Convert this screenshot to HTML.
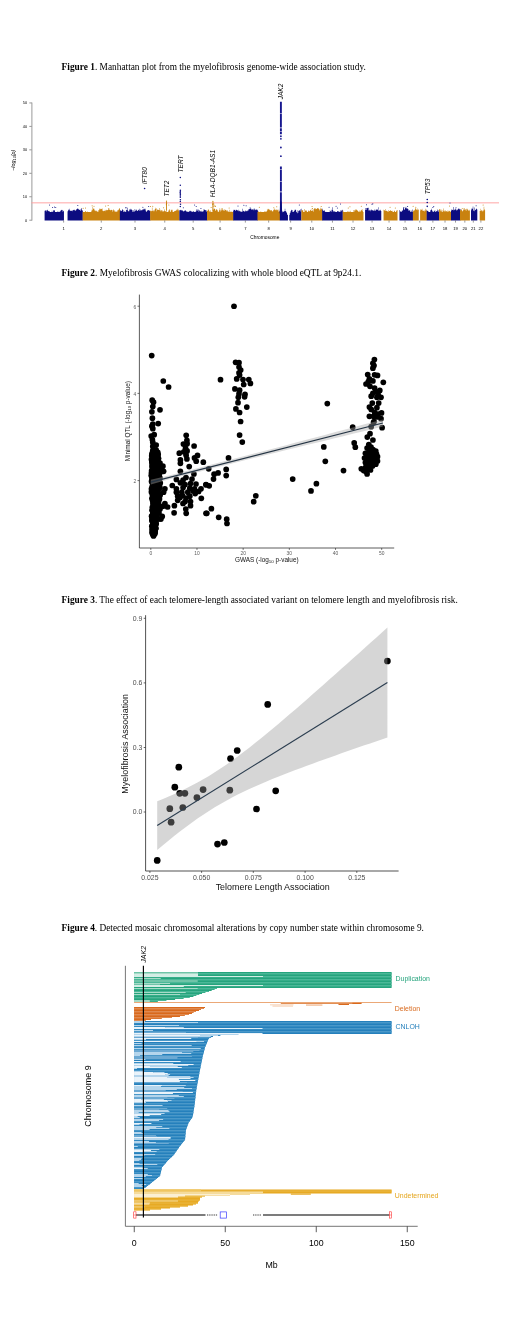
<!DOCTYPE html>
<html lang="en">
<head>
<meta charset="utf-8">
<title>Figures</title>
<style>
html,body{margin:0;padding:0;background:#fff;}
body{width:520px;height:1334px;overflow:hidden;}
svg{display:block;}
</style>
</head>
<body>
<svg width="520" height="1334" viewBox="0 0 520 1334">
<rect width="520" height="1334" fill="#fff"/>
<g id="captions" font-family='"Liberation Serif", serif' font-size="9.35" fill="#000">
<text x="61.6" y="70.2" textLength="304.2" lengthAdjust="spacingAndGlyphs"><tspan font-weight="bold">Figure 1</tspan>. Manhattan plot from the myelofibrosis genome-wide association study.</text>
<text x="61.6" y="276.4" textLength="299.7" lengthAdjust="spacingAndGlyphs"><tspan font-weight="bold">Figure 2</tspan>. Myelofibrosis GWAS colocalizing with whole blood eQTL at 9p24.1.</text>
<text x="61.6" y="602.6" textLength="396.2" lengthAdjust="spacingAndGlyphs"><tspan font-weight="bold">Figure 3</tspan>. The effect of each telomere-length associated variant on telomere length and myelofibrosis risk.</text>
<text x="61.6" y="931.2" textLength="362.3" lengthAdjust="spacingAndGlyphs"><tspan font-weight="bold">Figure 4</tspan>. Detected mosaic chromosomal alterations by copy number state within chromosome 9.</text>
</g>
<g id="fig1">
<g stroke="#999" stroke-width="1.0" fill="none">
<path d="M31.9 220.6 V102.55"/>
<path d="M29.3 220.2 H31.9"/>
<path d="M29.3 196.75 H31.9"/>
<path d="M29.3 173.3 H31.9"/>
<path d="M29.3 149.85 H31.9"/>
<path d="M29.3 126.4 H31.9"/>
<path d="M29.3 102.95 H31.9"/>
</g>
<g font-family='"Liberation Sans", sans-serif' font-size="3.9" fill="#000" text-anchor="end">
<text x="27.2" y="221.6">0</text>
<text x="27.2" y="198.15">10</text>
<text x="27.2" y="174.7">20</text>
<text x="27.2" y="151.25">30</text>
<text x="27.2" y="127.8">40</text>
<text x="27.2" y="104.35">50</text>
</g>
<text transform="translate(15.3 160.2) rotate(-90)" font-family='"Liberation Sans", sans-serif' font-size="5.4" font-style="italic" text-anchor="middle" fill="#000">−log<tspan font-size="3.8" dy="1">10</tspan><tspan dy="-1">(</tspan>p<tspan>)</tspan></text>
<path d="M31.4 202.85 H499" stroke="#ff9c9c" stroke-width="0.9" fill="none"/>
<path d="M44.6 220.4L44.6 210.76h0.45L45.05 210.52h0.45L45.5 210.48h0.45L45.95 210.29h0.45L46.4 211.57h0.45L46.85 210.27h0.45L47.3 209.71h0.45L47.75 210.75h0.45L48.2 211.28h0.45L48.65 211.1h0.45L49.1 211.11h0.45L49.55 211.99h0.45L50 211.98h0.45L50.45 211.99h0.45L50.9 211.95h0.45L51.35 211.99h0.45L51.8 210.75h0.45L52.25 211.99h0.45L52.7 211.99h0.45L53.15 210.46h0.45L53.6 210.14h0.45L54.05 210.81h0.45L54.5 210.01h0.45L54.95 211.99h0.45L55.4 211.99h0.45L55.85 211.99h0.45L56.3 211.99h0.45L56.75 211.99h0.45L57.2 211.67h0.45L57.65 211.55h0.45L58.1 211.83h0.45L58.55 211.99h0.45L59 211.89h0.45L59.45 211.86h0.45L59.9 211.14h0.45L60.35 211.23h0.45L60.8 209.93h0.45L61.25 210.32h0.45L61.7 209.74h0.45L62.15 210.1h0.45L62.6 211.84h0.45L63.05 211.37h0.45L63.5 210.87h0.45L63.95 220.4ZM67.55 220.4L67.55 211.35h0.45L68 210.56h0.45L68.45 209.49h0.45L68.9 210.04h0.45L69.35 208.8h0.45L69.8 211.01h0.45L70.25 210.55h0.45L70.7 210.96h0.45L71.15 210.69h0.45L71.6 210.86h0.45L72.05 210.26h0.45L72.5 211.34h0.45L72.95 210.19h0.45L73.4 210.08h0.45L73.85 209.57h0.45L74.3 210.15h0.45L74.75 210.23h0.45L75.2 210.84h0.45L75.65 210.57h0.45L76.1 208.97h0.45L76.55 209.66h0.45L77 208.55h0.45L77.45 208.72h0.45L77.9 208.8h0.45L78.35 209.22h0.45L78.8 209.86h0.45L79.25 209.87h0.45L79.7 209.93h0.45L80.15 210.92h0.45L80.6 209.19h0.45L81.05 208.12h0.45L81.5 209.39h0.45L81.95 211.03h0.45L82.4 209.9h0.45L82.85 220.4Z" fill="#0c0c80"/>
<g fill="#0c0c80"><circle cx="77.8" cy="205.38" r="0.5"/><circle cx="52.64" cy="207.53" r="0.5"/><circle cx="55.76" cy="207.57" r="0.5"/><circle cx="54.48" cy="206.9" r="0.5"/><circle cx="49.59" cy="205.06" r="0.5"/></g>
<path d="M82.68 220.4L82.68 211.65h0.45L83.13 211.99h0.45L83.58 211.99h0.45L84.03 211.99h0.45L84.48 211.99h0.45L84.93 211.35h0.45L85.38 210.99h0.45L85.83 211.99h0.45L86.28 211.99h0.45L86.73 211.67h0.45L87.18 211.53h0.45L87.63 211.99h0.45L88.08 211.99h0.45L88.53 211.99h0.45L88.98 211.99h0.45L89.43 211.99h0.45L89.88 211.99h0.45L90.33 211.99h0.45L90.78 211.93h0.45L91.23 211.2h0.45L91.68 209.65h0.45L92.13 210.24h0.45L92.58 206.77h0.45L93.03 208.58h0.45L93.48 208.76h0.45L93.93 208.84h0.45L94.38 210.16h0.45L94.83 210.87h0.45L95.28 210.53h0.45L95.73 211.15h0.45L96.18 210.49h0.45L96.63 211.18h0.45L97.08 211.22h0.45L97.53 211.99h0.45L97.98 211.78h0.45L98.43 210.12h0.45L98.88 210.21h0.45L99.33 208.67h0.45L99.78 208.41h0.45L100.23 208.94h0.45L100.68 209.46h0.45L101.13 209.1h0.45L101.58 208.73h0.45L102.03 208.54h0.45L102.48 210.83h0.45L102.93 210.67h0.45L103.38 211.31h0.45L103.83 210.99h0.45L104.28 211.05h0.45L104.73 209.81h0.45L105.18 210.34h0.45L105.63 211.16h0.45L106.08 210.18h0.45L106.53 209.84h0.45L106.98 210.01h0.45L107.43 210.37h0.45L107.88 209.9h0.45L108.33 208.13h0.45L108.78 207.89h0.45L109.23 209.64h0.45L109.68 209.73h0.45L110.13 210.29h0.45L110.58 210.29h0.45L111.03 210.01h0.45L111.48 209.79h0.45L111.93 209.92h0.45L112.38 211.8h0.45L112.83 210.58h0.45L113.28 209.29h0.45L113.73 210.33h0.45L114.18 211.62h0.45L114.63 210.29h0.45L115.08 211.15h0.45L115.53 211.99h0.45L115.98 211.99h0.45L116.43 211.23h0.45L116.88 211.8h0.45L117.33 210.17h0.45L117.78 210.51h0.45L118.23 209.84h0.45L118.68 209.61h0.45L119.13 207.89h0.45L119.58 208.63h0.45L120.03 220.4Z" fill="#c9820f"/>
<g fill="#c9820f"><circle cx="108.1" cy="205.6" r="0.5"/><circle cx="105.62" cy="206.06" r="0.5"/><circle cx="85.56" cy="207.92" r="0.5"/><circle cx="92.12" cy="205.69" r="0.5"/><circle cx="94" cy="206.34" r="0.5"/><circle cx="83.15" cy="208.25" r="0.5"/></g>
<path d="M119.85 220.4L119.85 210.64h0.45L120.3 210.08h0.45L120.75 211.27h0.45L121.2 210.98h0.45L121.65 210.58h0.45L122.1 209.34h0.45L122.55 209.66h0.45L123 210.15h0.45L123.45 211.99h0.45L123.9 211.99h0.45L124.35 211.18h0.45L124.8 210.83h0.45L125.25 211.99h0.45L125.7 211.99h0.45L126.15 209.98h0.45L126.6 209.66h0.45L127.05 210.31h0.45L127.5 207.94h0.45L127.95 211.39h0.45L128.4 210.99h0.45L128.85 211.21h0.45L129.3 209.27h0.45L129.75 210.08h0.45L130.2 209.38h0.45L130.65 208.65h0.45L131.1 209.32h0.45L131.55 210.11h0.45L132 210.13h0.45L132.45 211.88h0.45L132.9 209.94h0.45L133.35 211.5h0.45L133.8 211.99h0.45L134.25 211.29h0.45L134.7 208.88h0.45L135.15 210.65h0.45L135.6 210.45h0.45L136.05 210.25h0.45L136.5 209.51h0.45L136.95 210.94h0.45L137.4 210.94h0.45L137.85 210.08h0.45L138.3 209.64h0.45L138.75 210.58h0.45L139.2 208.86h0.45L139.65 210.73h0.45L140.1 209.53h0.45L140.55 210.54h0.45L141 209.95h0.45L141.45 210.52h0.45L141.9 210.24h0.45L142.35 209.13h0.45L142.8 210.07h0.45L143.25 209.3h0.45L143.7 208.85h0.45L144.15 208.84h0.45L144.6 209.47h0.45L145.05 210.39h0.45L145.5 208.73h0.45L145.95 211.99h0.45L146.4 211.58h0.45L146.85 211.08h0.45L147.3 210.18h0.45L147.75 210.34h0.45L148.2 209.93h0.45L148.65 210.31h0.45L149.1 210.55h0.45L149.55 210.72h0.45L150 211.5h0.45L150.45 220.4Z" fill="#0c0c80"/>
<g fill="#0c0c80"><circle cx="126.84" cy="207.64" r="0.5"/><circle cx="142.88" cy="207.37" r="0.5"/><circle cx="148.68" cy="206.61" r="0.5"/><circle cx="125.52" cy="207.64" r="0.5"/></g>
<path d="M150.14 220.4L150.14 210.6h0.45L150.59 211.11h0.45L151.04 211.17h0.45L151.49 210.79h0.45L151.94 207.46h0.45L152.39 210.99h0.45L152.84 210.4h0.45L153.29 210.53h0.45L153.74 211.58h0.45L154.19 210.5h0.45L154.64 209.47h0.45L155.09 207.65h0.45L155.54 208.94h0.45L155.99 208.3h0.45L156.44 211.18h0.45L156.89 208.91h0.45L157.34 210.1h0.45L157.79 210h0.45L158.24 209.68h0.45L158.69 209.92h0.45L159.14 207.89h0.45L159.59 210.16h0.45L160.04 211.15h0.45L160.49 209.72h0.45L160.94 211.35h0.45L161.39 209.88h0.45L161.84 209.9h0.45L162.29 211.46h0.45L162.74 211.28h0.45L163.19 211.28h0.45L163.64 211.56h0.45L164.09 210.82h0.45L164.54 209.37h0.45L164.99 211.34h0.45L165.44 211.32h0.45L165.89 211.55h0.45L166.34 211.32h0.45L166.79 211.99h0.45L167.24 211.99h0.45L167.69 211.99h0.45L168.14 211.48h0.45L168.59 210.34h0.45L169.04 210.34h0.45L169.49 209.02h0.45L169.94 211.54h0.45L170.39 211.99h0.45L170.84 209.78h0.45L171.29 209.81h0.45L171.74 210.53h0.45L172.19 209.87h0.45L172.64 211.99h0.45L173.09 211.99h0.45L173.54 211.64h0.45L173.99 211.47h0.45L174.44 211.12h0.45L174.89 210.81h0.45L175.34 211h0.45L175.79 210.55h0.45L176.24 210.29h0.45L176.69 209.6h0.45L177.14 210.17h0.45L177.59 208.66h0.45L178.04 209.59h0.45L178.49 210.58h0.45L178.94 211.21h0.45L179.39 220.4Z" fill="#c9820f"/>
<g fill="#c9820f"><circle cx="163.6" cy="207.87" r="0.5"/><circle cx="150.57" cy="206.41" r="0.5"/><circle cx="168.85" cy="205.06" r="0.5"/><circle cx="152.74" cy="206.14" r="0.5"/></g>
<path d="M179.35 220.4L179.35 210.33h0.45L179.8 209.93h0.45L180.25 210.15h0.45L180.7 209.63h0.45L181.15 210.26h0.45L181.6 210.5h0.45L182.05 210.46h0.45L182.5 210.54h0.45L182.95 211.43h0.45L183.4 211.33h0.45L183.85 211.32h0.45L184.3 210.53h0.45L184.75 211.11h0.45L185.2 209.95h0.45L185.65 210.64h0.45L186.1 211.29h0.45L186.55 211.63h0.45L187 211.99h0.45L187.45 211.6h0.45L187.9 211.38h0.45L188.35 211.99h0.45L188.8 211.99h0.45L189.25 210.88h0.45L189.7 210.72h0.45L190.15 211.21h0.45L190.6 210.71h0.45L191.05 211h0.45L191.5 211.97h0.45L191.95 211.99h0.45L192.4 211.52h0.45L192.85 211.99h0.45L193.3 210.92h0.45L193.75 211.41h0.45L194.2 211.99h0.45L194.65 211.99h0.45L195.1 211.99h0.45L195.55 211.38h0.45L196 211.33h0.45L196.45 209.58h0.45L196.9 209.24h0.45L197.35 210.77h0.45L197.8 210.38h0.45L198.25 209.55h0.45L198.7 211.99h0.45L199.15 210.48h0.45L199.6 210.41h0.45L200.05 211.01h0.45L200.5 211.74h0.45L200.95 210.82h0.45L201.4 211.99h0.45L201.85 211.07h0.45L202.3 211.99h0.45L202.75 211.49h0.45L203.2 211.19h0.45L203.65 209.14h0.45L204.1 209.9h0.45L204.55 209.53h0.45L205 209.95h0.45L205.45 210.34h0.45L205.9 211.5h0.45L206.35 210.24h0.45L206.8 211.99h0.45L207.25 220.4Z" fill="#0c0c80"/>
<g fill="#0c0c80"><circle cx="200.91" cy="208.43" r="0.5"/><circle cx="194.6" cy="204.94" r="0.5"/><circle cx="183.29" cy="207.73" r="0.5"/><circle cx="196.18" cy="206.57" r="0.5"/></g>
<path d="M207.03 220.4L207.03 210.74h0.45L207.48 210.85h0.45L207.93 209.36h0.45L208.38 209.67h0.45L208.83 210.49h0.45L209.28 211.49h0.45L209.73 211.46h0.45L210.18 210.2h0.45L210.63 211.99h0.45L211.08 211.99h0.45L211.53 211.73h0.45L211.98 211.99h0.45L212.43 210.16h0.45L212.88 209.14h0.45L213.33 209.91h0.45L213.78 208.82h0.45L214.23 208.5h0.45L214.68 208.92h0.45L215.13 210.4h0.45L215.58 210.74h0.45L216.03 209.58h0.45L216.48 209.22h0.45L216.93 209.64h0.45L217.38 210.42h0.45L217.83 211.99h0.45L218.28 211.8h0.45L218.73 211.61h0.45L219.18 210.02h0.45L219.63 208.21h0.45L220.08 209.75h0.45L220.53 211.56h0.45L220.98 210.59h0.45L221.43 208.22h0.45L221.88 210.27h0.45L222.33 207.92h0.45L222.78 209.58h0.45L223.23 210.14h0.45L223.68 210.79h0.45L224.13 209.27h0.45L224.58 210.87h0.45L225.03 210.08h0.45L225.48 209.73h0.45L225.93 210.29h0.45L226.38 211.13h0.45L226.83 210h0.45L227.28 210.7h0.45L227.73 211.65h0.45L228.18 211.28h0.45L228.63 211.99h0.45L229.08 209.75h0.45L229.53 211.99h0.45L229.98 211.62h0.45L230.43 211.99h0.45L230.88 211.56h0.45L231.33 211.99h0.45L231.78 211.42h0.45L232.23 211.99h0.45L232.68 211.99h0.45L233.13 211.99h0.45L233.58 220.4Z" fill="#c9820f"/>
<g fill="#c9820f"><circle cx="214.92" cy="205.84" r="0.5"/><circle cx="229.1" cy="207.89" r="0.5"/><circle cx="211.11" cy="207.55" r="0.5"/><circle cx="215.57" cy="206.52" r="0.5"/></g>
<path d="M233.19 220.4L233.19 210.82h0.45L233.64 209.65h0.45L234.09 209.96h0.45L234.54 209.63h0.45L234.99 210.48h0.45L235.44 210.85h0.45L235.89 209.4h0.45L236.34 209.9h0.45L236.79 210.32h0.45L237.24 210.08h0.45L237.69 210.96h0.45L238.14 211.15h0.45L238.59 209.66h0.45L239.04 210.69h0.45L239.49 211.32h0.45L239.94 211.27h0.45L240.39 211.62h0.45L240.84 211.99h0.45L241.29 211.84h0.45L241.74 211.61h0.45L242.19 208.63h0.45L242.64 211.83h0.45L243.09 211h0.45L243.54 210.82h0.45L243.99 211.3h0.45L244.44 211.82h0.45L244.89 211.39h0.45L245.34 210.6h0.45L245.79 210.67h0.45L246.24 211.07h0.45L246.69 211.52h0.45L247.14 211.04h0.45L247.59 210.26h0.45L248.04 210.54h0.45L248.49 209.15h0.45L248.94 209.03h0.45L249.39 209.25h0.45L249.84 207.1h0.45L250.29 208.77h0.45L250.74 208.54h0.45L251.19 209.26h0.45L251.64 209.98h0.45L252.09 209.2h0.45L252.54 209.53h0.45L252.99 210.28h0.45L253.44 209.17h0.45L253.89 208.19h0.45L254.34 209.34h0.45L254.79 210.15h0.45L255.24 209.53h0.45L255.69 209.95h0.45L256.14 209.81h0.45L256.59 209.23h0.45L257.04 209.79h0.45L257.49 210.38h0.45L257.94 220.4Z" fill="#0c0c80"/>
<g fill="#0c0c80"><circle cx="237.99" cy="205.88" r="0.5"/><circle cx="246.1" cy="205.69" r="0.5"/><circle cx="243.85" cy="205.16" r="0.5"/></g>
<path d="M257.51 220.4L257.51 211.99h0.45L257.96 211.79h0.45L258.41 211.24h0.45L258.86 211.89h0.45L259.31 211.99h0.45L259.76 211.99h0.45L260.21 211.99h0.45L260.66 211.21h0.45L261.11 211.99h0.45L261.56 211.99h0.45L262.01 211.99h0.45L262.46 211.99h0.45L262.91 211.99h0.45L263.36 211.99h0.45L263.81 211.92h0.45L264.26 211.67h0.45L264.71 210.96h0.45L265.16 211.91h0.45L265.61 211.5h0.45L266.06 211.99h0.45L266.51 210.9h0.45L266.96 209.19h0.45L267.41 210.44h0.45L267.86 208.65h0.45L268.31 209.57h0.45L268.76 209.01h0.45L269.21 209.73h0.45L269.66 210.14h0.45L270.11 210.5h0.45L270.56 210.37h0.45L271.01 210.4h0.45L271.46 210.02h0.45L271.91 211.58h0.45L272.36 211.36h0.45L272.81 211.32h0.45L273.26 209.88h0.45L273.71 209.49h0.45L274.16 209.65h0.45L274.61 208.4h0.45L275.06 210.17h0.45L275.51 209.75h0.45L275.96 209.25h0.45L276.41 210.23h0.45L276.86 210.06h0.45L277.31 210.21h0.45L277.76 209.23h0.45L278.21 211.68h0.45L278.66 210.3h0.45L279.11 210.69h0.45L279.56 211.38h0.45L280.01 220.4Z" fill="#c9820f"/>
<g fill="#c9820f"><circle cx="259.29" cy="207.31" r="0.5"/><circle cx="273.8" cy="207.85" r="0.5"/><circle cx="276.73" cy="206.65" r="0.5"/></g>
<path d="M279.84 220.4L279.84 211.37h0.45L280.29 211.21h0.45L280.74 211.19h0.45L281.19 212.19h0.45L281.64 212.17h0.45L282.09 212.29h0.45L282.54 211.31h0.45L282.99 211.87h0.45L283.44 211.76h0.45L283.89 211.54h0.45L284.34 211.03h0.45L284.79 208.87h0.45L285.24 211.16h0.45L285.69 211.06h0.45L286.14 211.91h0.45L286.59 213.1h0.45L287.04 214.44h0.45L287.49 215.04h0.45L287.94 220.4ZM289.29 220.4L289.29 215.04h0.45L289.74 213.25h0.45L290.19 212.62h0.45L290.64 211.08h0.45L291.09 210.37h0.45L291.54 209.86h0.45L291.99 209.9h0.45L292.44 211.96h0.45L292.89 211.67h0.45L293.34 211.89h0.45L293.79 211.32h0.45L294.24 210.68h0.45L294.69 209.87h0.45L295.14 209.9h0.45L295.59 209.48h0.45L296.04 212.37h0.45L296.49 211.84h0.45L296.94 210.18h0.45L297.39 213.24h0.45L297.84 212.71h0.45L298.29 210.89h0.45L298.74 210.53h0.45L299.19 210.74h0.45L299.64 210.05h0.45L300.09 209.24h0.45L300.54 211.48h0.45L300.99 208.67h0.45L301.44 220.4Z" fill="#0c0c80"/>
<g fill="#0c0c80"><circle cx="280.67" cy="207.52" r="0.5"/><circle cx="299.31" cy="205.08" r="0.5"/></g>
<path d="M301.4 220.4L301.4 210.22h0.45L301.85 210.68h0.45L302.3 210.11h0.45L302.75 210.17h0.45L303.2 211.98h0.45L303.65 211.99h0.45L304.1 211.99h0.45L304.55 208.98h0.45L305 210.63h0.45L305.45 210.25h0.45L305.9 210.91h0.45L306.35 210.14h0.45L306.8 211.74h0.45L307.25 211.99h0.45L307.7 211.99h0.45L308.15 210.83h0.45L308.6 210.6h0.45L309.05 211.22h0.45L309.5 211.15h0.45L309.95 209.89h0.45L310.4 209.7h0.45L310.85 210.91h0.45L311.3 211.09h0.45L311.75 208.38h0.45L312.2 210.29h0.45L312.65 210.93h0.45L313.1 211.71h0.45L313.55 209.23h0.45L314 208.03h0.45L314.45 208.66h0.45L314.9 209.29h0.45L315.35 207.92h0.45L315.8 209.26h0.45L316.25 208.88h0.45L316.7 208.7h0.45L317.15 208.31h0.45L317.6 207.95h0.45L318.05 208.58h0.45L318.5 208.56h0.45L318.95 209.13h0.45L319.4 210.54h0.45L319.85 209.6h0.45L320.3 207.66h0.45L320.75 209.59h0.45L321.2 208.45h0.45L321.65 208.77h0.45L322.1 210.46h0.45L322.55 220.4Z" fill="#c9820f"/>
<g fill="#c9820f"><circle cx="321.18" cy="206.62" r="0.5"/><circle cx="312.04" cy="206.48" r="0.5"/><circle cx="312.54" cy="208.4" r="0.5"/></g>
<path d="M322.13 220.4L322.13 208.7h0.45L322.58 210.3h0.45L323.03 210.55h0.45L323.48 210.94h0.45L323.93 210.66h0.45L324.38 210.18h0.45L324.83 211.79h0.45L325.28 211.99h0.45L325.73 211.76h0.45L326.18 211.99h0.45L326.63 211.99h0.45L327.08 211.96h0.45L327.53 211.99h0.45L327.98 211.99h0.45L328.43 211.99h0.45L328.88 211.99h0.45L329.33 211.92h0.45L329.78 210.13h0.45L330.23 211.21h0.45L330.68 211.3h0.45L331.13 211.8h0.45L331.58 209.84h0.45L332.03 210.03h0.45L332.48 207.27h0.45L332.93 211.99h0.45L333.38 210.87h0.45L333.83 211.01h0.45L334.28 211.99h0.45L334.73 211.11h0.45L335.18 211.99h0.45L335.63 211.99h0.45L336.08 211.99h0.45L336.53 211.99h0.45L336.98 211.61h0.45L337.43 211.05h0.45L337.88 211.09h0.45L338.33 211.59h0.45L338.78 211.99h0.45L339.23 211.68h0.45L339.68 211.78h0.45L340.13 211.8h0.45L340.58 210.24h0.45L341.03 211.25h0.45L341.48 210.26h0.45L341.93 209.86h0.45L342.38 210.29h0.45L342.83 220.4Z" fill="#0c0c80"/>
<g fill="#0c0c80"><circle cx="337.38" cy="207.9" r="0.5"/><circle cx="329.09" cy="207.15" r="0.5"/><circle cx="336.07" cy="206.16" r="0.5"/></g>
<path d="M342.78 220.4L342.78 210.51h0.45L343.23 211.84h0.45L343.68 211.99h0.45L344.13 211.99h0.45L344.58 211.99h0.45L345.03 211.99h0.45L345.48 211.99h0.45L345.93 211.99h0.45L346.38 211.99h0.45L346.83 211.99h0.45L347.28 211.66h0.45L347.73 210.9h0.45L348.18 211.72h0.45L348.63 211.99h0.45L349.08 211.99h0.45L349.53 211.43h0.45L349.98 210.64h0.45L350.43 211.99h0.45L350.88 211.99h0.45L351.33 211.99h0.45L351.78 211.99h0.45L352.23 211.99h0.45L352.68 211.99h0.45L353.13 211.99h0.45L353.58 210.09h0.45L354.03 209.95h0.45L354.48 211.47h0.45L354.93 209.61h0.45L355.38 210.45h0.45L355.83 209.15h0.45L356.28 209.82h0.45L356.73 210.27h0.45L357.18 210.27h0.45L357.63 210.9h0.45L358.08 211.26h0.45L358.53 211.99h0.45L358.98 211.99h0.45L359.43 210.53h0.45L359.88 211.55h0.45L360.33 211.46h0.45L360.78 210.25h0.45L361.23 209.74h0.45L361.68 210.49h0.45L362.13 211.29h0.45L362.58 209.33h0.45L363.03 211.99h0.45L363.48 220.4Z" fill="#c9820f"/>
<g fill="#c9820f"><circle cx="348.24" cy="208.1" r="0.5"/><circle cx="361.3" cy="206.29" r="0.5"/><circle cx="349.93" cy="206.79" r="0.5"/></g>
<path d="M365.07 220.4L365.07 209.92h0.45L365.52 208.07h0.45L365.97 210h0.45L366.42 208.09h0.45L366.87 207.9h0.45L367.32 208.23h0.45L367.77 207.7h0.45L368.22 210.38h0.45L368.67 208.79h0.45L369.12 210h0.45L369.57 210.72h0.45L370.02 211.14h0.45L370.47 209.95h0.45L370.92 209.13h0.45L371.37 210.05h0.45L371.82 210.73h0.45L372.27 209.89h0.45L372.72 210.27h0.45L373.17 210.92h0.45L373.62 210.28h0.45L374.07 210.82h0.45L374.52 209.5h0.45L374.97 211.08h0.45L375.42 210.3h0.45L375.87 209.25h0.45L376.32 209.96h0.45L376.77 209.36h0.45L377.22 209.39h0.45L377.67 209.94h0.45L378.12 211.07h0.45L378.57 209.32h0.45L379.02 210.21h0.45L379.47 210.67h0.45L379.92 210.46h0.45L380.37 209.71h0.45L380.82 211.02h0.45L381.27 220.4Z" fill="#0c0c80"/>
<g fill="#0c0c80"><circle cx="378.42" cy="207.98" r="0.5"/><circle cx="368.14" cy="208.36" r="0.5"/></g>
<path d="M383.56 220.4L383.56 209.66h0.45L384.01 210.3h0.45L384.46 210.28h0.45L384.91 211.12h0.45L385.36 209.1h0.45L385.81 210.81h0.45L386.26 210.84h0.45L386.71 210.91h0.45L387.16 210.96h0.45L387.61 211.91h0.45L388.06 211.68h0.45L388.51 209.94h0.45L388.96 211.08h0.45L389.41 210.98h0.45L389.86 210.38h0.45L390.31 210.36h0.45L390.76 210.74h0.45L391.21 210.9h0.45L391.66 211.05h0.45L392.11 210.78h0.45L392.56 211.99h0.45L393.01 211.99h0.45L393.46 211.99h0.45L393.91 210.73h0.45L394.36 210.78h0.45L394.81 211.69h0.45L395.26 211.99h0.45L395.71 211.98h0.45L396.16 210.57h0.45L396.61 210.82h0.45L397.06 210.09h0.45L397.51 220.4Z" fill="#c9820f"/>
<g fill="#c9820f"><circle cx="395.34" cy="207.94" r="0.5"/><circle cx="390.08" cy="207.22" r="0.5"/></g>
<path d="M399.48 220.4L399.48 210.04h0.45L399.93 211.09h0.45L400.38 211.81h0.45L400.83 211.99h0.45L401.28 211.76h0.45L401.73 210.83h0.45L402.18 210.62h0.45L402.63 210.61h0.45L403.08 207.77h0.45L403.53 208.21h0.45L403.98 209.3h0.45L404.43 210.08h0.45L404.88 208.16h0.45L405.33 207.77h0.45L405.78 206.85h0.45L406.23 208.38h0.45L406.68 208.33h0.45L407.13 208.78h0.45L407.58 208.5h0.45L408.03 209.27h0.45L408.48 210.76h0.45L408.93 210.29h0.45L409.38 210.52h0.45L409.83 210.58h0.45L410.28 211.99h0.45L410.73 211.71h0.45L411.18 211.83h0.45L411.63 210.51h0.45L412.08 211.99h0.45L412.53 209.53h0.45L412.98 220.4Z" fill="#0c0c80"/>
<g fill="#0c0c80"><circle cx="403.9" cy="207.41" r="0.5"/><circle cx="407.6" cy="206.54" r="0.5"/></g>
<path d="M412.9 220.4L412.9 211.42h0.45L413.35 210.39h0.45L413.8 210.67h0.45L414.25 210.31h0.45L414.7 209.77h0.45L415.15 208.78h0.45L415.6 207.92h0.45L416.05 209.5h0.45L416.5 209.65h0.45L416.95 210.34h0.45L417.4 208.5h0.45L417.85 209.79h0.45L418.3 209.44h0.45L418.75 220.4ZM420.1 220.4L420.1 209.16h0.45L420.55 210.54h0.45L421 209.73h0.45L421.45 209.76h0.45L421.9 208.79h0.45L422.35 210.43h0.45L422.8 210.67h0.45L423.25 210.66h0.45L423.7 210.82h0.45L424.15 211.43h0.45L424.6 210.14h0.45L425.05 210.79h0.45L425.5 208.7h0.45L425.95 209.58h0.45L426.4 210.85h0.45L426.85 220.4Z" fill="#c9820f"/>
<g fill="#c9820f"><circle cx="413.11" cy="206.25" r="0.5"/><circle cx="415.84" cy="207.35" r="0.5"/></g>
<path d="M426.67 220.4L426.67 210.23h0.45L427.12 210.97h0.45L427.57 210.64h0.45L428.02 211.24h0.45L428.47 211.99h0.45L428.92 211.99h0.45L429.37 211.99h0.45L429.82 211.99h0.45L430.27 210.44h0.45L430.72 210.02h0.45L431.17 208.68h0.45L431.62 209.98h0.45L432.07 210.82h0.45L432.52 211.64h0.45L432.97 211.67h0.45L433.42 211.99h0.45L433.87 210.7h0.45L434.32 211.26h0.45L434.77 210.32h0.45L435.22 211.69h0.45L435.67 211.99h0.45L436.12 211.31h0.45L436.57 210.94h0.45L437.02 211.14h0.45L437.47 209.43h0.45L437.92 209.91h0.45L438.37 211.76h0.45L438.82 211.5h0.45L439.27 220.4Z" fill="#0c0c80"/>
<g fill="#0c0c80"><circle cx="432.86" cy="207.49" r="0.5"/><circle cx="433.72" cy="206.49" r="0.5"/></g>
<path d="M439.06 220.4L439.06 209.34h0.45L439.51 209.26h0.45L439.96 209.57h0.45L440.41 211.19h0.45L440.86 209.5h0.45L441.31 210.75h0.45L441.76 211.99h0.45L442.21 211.98h0.45L442.66 210.25h0.45L443.11 211.36h0.45L443.56 208.53h0.45L444.01 210.41h0.45L444.46 211.38h0.45L444.91 211.42h0.45L445.36 210.24h0.45L445.81 211.13h0.45L446.26 211.29h0.45L446.71 211.23h0.45L447.16 211.99h0.45L447.61 210.57h0.45L448.06 211.66h0.45L448.51 210.72h0.45L448.96 211.21h0.45L449.41 210.76h0.45L449.86 210.97h0.45L450.31 211.99h0.45L450.76 211.99h0.45L451.21 220.4Z" fill="#c9820f"/>
<g fill="#c9820f"><circle cx="449.5" cy="206.07" r="0.5"/></g>
<path d="M450.99 220.4L450.99 209.55h0.45L451.44 210.87h0.45L451.89 209.73h0.45L452.34 210.09h0.45L452.79 209.66h0.45L453.24 207.11h0.45L453.69 210.53h0.45L454.14 209.41h0.45L454.59 210.12h0.45L455.04 209.62h0.45L455.49 208.58h0.45L455.94 209.5h0.45L456.39 210.59h0.45L456.84 210.13h0.45L457.29 209.69h0.45L457.74 209.23h0.45L458.19 208.41h0.45L458.64 208.7h0.45L459.09 209.4h0.45L459.54 208.66h0.45L459.99 209.09h0.45L460.44 220.4Z" fill="#0c0c80"/>
<g fill="#0c0c80"><circle cx="456" cy="207.79" r="0.5"/></g>
<path d="M460.01 220.4L460.01 210.58h0.45L460.46 210.18h0.45L460.91 210.06h0.45L461.36 208.86h0.45L461.81 210.42h0.45L462.26 211.57h0.45L462.71 210.94h0.45L463.16 209.84h0.45L463.61 209.2h0.45L464.06 208.04h0.45L464.51 209.63h0.45L464.96 209.42h0.45L465.41 209.62h0.45L465.86 211.01h0.45L466.31 209.24h0.45L466.76 208.55h0.45L467.21 209.44h0.45L467.66 209.48h0.45L468.11 209.95h0.45L468.56 210.98h0.45L469.01 210.8h0.45L469.46 209.72h0.45L469.91 220.4Z" fill="#c9820f"/>
<g fill="#c9820f"><circle cx="462.88" cy="208.38" r="0.5"/></g>
<path d="M471 220.4L471 210.13h0.45L471.45 208.81h0.45L471.9 208.27h0.45L472.35 208.91h0.45L472.8 206.47h0.45L473.25 210.67h0.45L473.7 210.57h0.45L474.15 207.4h0.45L474.6 211.34h0.45L475.05 209.98h0.45L475.5 209.75h0.45L475.95 208.65h0.45L476.4 208.69h0.45L476.85 209.5h0.45L477.3 220.4Z" fill="#0c0c80"/>
<g fill="#0c0c80"><circle cx="476.13" cy="205.73" r="0.5"/></g>
<path d="M479.69 220.4L479.69 211.12h0.45L480.14 211.04h0.45L480.59 208.84h0.45L481.04 210.44h0.45L481.49 210.16h0.45L481.94 211.53h0.45L482.39 210.57h0.45L482.84 211.17h0.45L483.29 210.27h0.45L483.74 206.79h0.45L484.19 209.16h0.45L484.64 210.16h0.45L485.09 220.4Z" fill="#c9820f"/>
<g fill="#c9820f"><circle cx="483.1" cy="205.07" r="0.5"/></g>
<g fill="#0c0c80"><circle cx="144.6" cy="188.54" r="0.8"/></g>
<path d="M166.1 210.82 V201.44 h0.9 V210.82 Z" fill="#c9820f"/>
<g fill="#c9820f"><circle cx="166.5" cy="201.21" r="0.6"/><circle cx="166.6" cy="203.32" r="0.6"/><circle cx="166.4" cy="204.72" r="0.6"/></g>
<g fill="#0c0c80"><circle cx="180.3" cy="177.52" r="0.75"/><circle cx="180.3" cy="185.26" r="0.75"/><circle cx="180.4" cy="190.18" r="0.75"/><circle cx="180.3" cy="191.36" r="0.75"/><circle cx="180.2" cy="192.53" r="0.75"/><circle cx="180.3" cy="193.7" r="0.75"/><circle cx="180.4" cy="194.87" r="0.75"/><circle cx="180.3" cy="196.05" r="0.75"/><circle cx="180.3" cy="197.22" r="0.75"/><circle cx="180.4" cy="199.8" r="0.75"/><circle cx="180.3" cy="201.44" r="0.75"/><circle cx="180.5" cy="204.25" r="0.75"/><circle cx="180.3" cy="206.6" r="0.75"/></g>
<path d="M212.4 210.82 V202.38 h1 V210.82 Z" fill="#c9820f"/>
<g fill="#c9820f"><circle cx="212.9" cy="201.44" r="0.6"/><circle cx="213" cy="203.08" r="0.6"/><circle cx="212.8" cy="204.49" r="0.6"/><circle cx="213.8" cy="204.02" r="0.6"/><circle cx="213.9" cy="206.13" r="0.6"/></g>
<path d="M280.9 101.78 V134.37" stroke="#17178f" stroke-width="1.9" stroke-dasharray="11.8 0.5 13.5 0.6 3.2 0.5 3 40" fill="none"/>
<path d="M280.9 166.5 V213.16" stroke="#17178f" stroke-width="1.9" stroke-dasharray="3 0.5 11 0.6 10 0.6 40" fill="none"/>
<path d="M279.6 213.16 L280.3 201.44 L281.5 201.44 L282.3 213.16 Z" fill="#0c0c80"/>
<g fill="#17178f"><circle cx="280.9" cy="136.25" r="0.9"/><circle cx="280.9" cy="138.83" r="0.9"/><circle cx="280.9" cy="147.5" r="0.9"/><circle cx="280.9" cy="156.18" r="0.9"/></g>
<g fill="#0c0c80"><circle cx="427.25" cy="199.56" r="0.8"/><circle cx="427.25" cy="202.5" r="0.8"/><circle cx="427.25" cy="206.36" r="0.8"/></g>
<g fill="#0c0c80"><circle cx="340.5" cy="204.02" r="0.5"/></g>
<g fill="#0c0c80"><circle cx="372" cy="204.25" r="0.5"/><circle cx="372.8" cy="203.78" r="0.5"/></g>
<g fill="#0c0c80"><circle cx="366.5" cy="204.72" r="0.5"/></g>
<g fill="#0c0c80"><circle cx="450" cy="203.08" r="0.5"/></g>
<g font-family='"Liberation Sans", sans-serif' font-size="6.55" font-style="italic" fill="#000">
<text transform="translate(146.9 184.2) rotate(-90)">IFT80</text>
<text transform="translate(168.8 196.6) rotate(-90)">TET2</text>
<text transform="translate(182.5 172.4) rotate(-90)">TERT</text>
<text transform="translate(215.1 197.2) rotate(-90)">HLA-DQB1-AS1</text>
<text transform="translate(283.2 99.3) rotate(-90)">JAK2</text>
<text transform="translate(429.5 194.3) rotate(-90)">TP53</text>
</g>
<g stroke="#444" stroke-width="0.55">
<path d="M63.64 220.5 V222.6"/>
<path d="M101.27 220.5 V222.6"/>
<path d="M134.99 220.5 V222.6"/>
<path d="M164.74 220.5 V222.6"/>
<path d="M193.19 220.5 V222.6"/>
<path d="M220.11 220.5 V222.6"/>
<path d="M245.35 220.5 V222.6"/>
<path d="M268.67 220.5 V222.6"/>
<path d="M290.62 220.5 V222.6"/>
<path d="M311.77 220.5 V222.6"/>
<path d="M332.45 220.5 V222.6"/>
<path d="M353.02 220.5 V222.6"/>
<path d="M372.07 220.5 V222.6"/>
<path d="M389.04 220.5 V222.6"/>
<path d="M405.06 220.5 V222.6"/>
<path d="M419.79 220.5 V222.6"/>
<path d="M432.86 220.5 V222.6"/>
<path d="M445.02 220.5 V222.6"/>
<path d="M455.5 220.5 V222.6"/>
<path d="M464.83 220.5 V222.6"/>
<path d="M473.32 220.5 V222.6"/>
<path d="M480.89 220.5 V222.6"/>
</g>
<g font-family='"Liberation Sans", sans-serif' font-size="4.2" fill="#000" text-anchor="middle">
<text x="63.64" y="229.5">1</text>
<text x="101.27" y="229.5">2</text>
<text x="134.99" y="229.5">3</text>
<text x="164.74" y="229.5">4</text>
<text x="193.19" y="229.5">5</text>
<text x="220.11" y="229.5">6</text>
<text x="245.35" y="229.5">7</text>
<text x="268.67" y="229.5">8</text>
<text x="290.62" y="229.5">9</text>
<text x="311.77" y="229.5">10</text>
<text x="332.45" y="229.5">11</text>
<text x="353.02" y="229.5">12</text>
<text x="372.07" y="229.5">13</text>
<text x="389.04" y="229.5">14</text>
<text x="405.06" y="229.5">15</text>
<text x="419.79" y="229.5">16</text>
<text x="432.86" y="229.5">17</text>
<text x="445.02" y="229.5">18</text>
<text x="455.5" y="229.5">19</text>
<text x="464.83" y="229.5">20</text>
<text x="473.32" y="229.5">21</text>
<text x="480.89" y="229.5">22</text>
</g>
<text x="264.8" y="239.4" font-family='"Liberation Sans", sans-serif' font-size="4.85" text-anchor="middle" fill="#000">Chromosome</text>
</g>
<g id="fig2">
<g fill="#000"><circle cx="234" cy="306.25" r="2.85"/><circle cx="151.7" cy="355.6" r="2.85"/><circle cx="163.3" cy="381" r="2.85"/><circle cx="168.6" cy="387" r="2.85"/><circle cx="220.5" cy="379.7" r="2.85"/><circle cx="152.2" cy="400.2" r="2.85"/><circle cx="153.5" cy="402.2" r="2.85"/><circle cx="152.8" cy="406.6" r="2.85"/><circle cx="160" cy="409.8" r="2.85"/><circle cx="151.9" cy="411.8" r="2.85"/><circle cx="152.4" cy="418.2" r="2.85"/><circle cx="158.2" cy="423.6" r="2.85"/><circle cx="152.8" cy="424.2" r="2.85"/><circle cx="151.9" cy="426.2" r="2.85"/><circle cx="152.8" cy="428.7" r="2.85"/><circle cx="154.2" cy="434.7" r="2.85"/><circle cx="151.2" cy="436.1" r="2.85"/><circle cx="152.4" cy="439.7" r="2.85"/><circle cx="152.8" cy="442.4" r="2.85"/><circle cx="156.2" cy="445.1" r="2.85"/><circle cx="152.8" cy="446.4" r="2.85"/><circle cx="156.2" cy="450.1" r="2.85"/><circle cx="152.8" cy="450.5" r="2.85"/><circle cx="162.9" cy="466.2" r="2.85"/><circle cx="186.2" cy="435.3" r="2.85"/><circle cx="186.9" cy="440.4" r="2.85"/><circle cx="183.4" cy="444.1" r="2.85"/><circle cx="187.1" cy="443.7" r="2.85"/><circle cx="194.1" cy="446" r="2.85"/><circle cx="185.5" cy="448.2" r="2.85"/><circle cx="187.1" cy="450.9" r="2.85"/><circle cx="183.8" cy="451.8" r="2.85"/><circle cx="179.3" cy="453.2" r="2.85"/><circle cx="186.1" cy="455.2" r="2.85"/><circle cx="197.5" cy="455.4" r="2.85"/><circle cx="194.5" cy="457.9" r="2.85"/><circle cx="186.9" cy="458.9" r="2.85"/><circle cx="180.4" cy="459.9" r="2.85"/><circle cx="196.2" cy="461.2" r="2.85"/><circle cx="203.3" cy="462.2" r="2.85"/><circle cx="180.4" cy="463.3" r="2.85"/><circle cx="189.2" cy="466.6" r="2.85"/><circle cx="163.6" cy="471.3" r="2.85"/><circle cx="180.4" cy="471.3" r="2.85"/><circle cx="193.9" cy="474" r="2.85"/><circle cx="176.4" cy="479.4" r="2.85"/><circle cx="183.1" cy="480.1" r="2.85"/><circle cx="180.4" cy="482.8" r="2.85"/><circle cx="190.5" cy="483.5" r="2.85"/><circle cx="172.3" cy="485.5" r="2.85"/><circle cx="206" cy="484.8" r="2.85"/><circle cx="164.9" cy="488.8" r="2.85"/><circle cx="176.4" cy="488.8" r="2.85"/><circle cx="183.1" cy="487.5" r="2.85"/><circle cx="189.8" cy="488.2" r="2.85"/><circle cx="194.5" cy="488.8" r="2.85"/><circle cx="201" cy="488.8" r="2.85"/><circle cx="163.6" cy="492.2" r="2.85"/><circle cx="176.4" cy="492.2" r="2.85"/><circle cx="181.8" cy="492.2" r="2.85"/><circle cx="187.8" cy="492.2" r="2.85"/><circle cx="195.2" cy="493.6" r="2.85"/><circle cx="198.6" cy="491.5" r="2.85"/><circle cx="177.7" cy="496.2" r="2.85"/><circle cx="182.4" cy="495.6" r="2.85"/><circle cx="189.8" cy="496.2" r="2.85"/><circle cx="201.3" cy="498.3" r="2.85"/><circle cx="177.7" cy="500.3" r="2.85"/><circle cx="185.1" cy="501.6" r="2.85"/><circle cx="190.5" cy="501.6" r="2.85"/><circle cx="190.5" cy="505.7" r="2.85"/><circle cx="174.4" cy="505.7" r="2.85"/><circle cx="164.9" cy="503.6" r="2.85"/><circle cx="167.6" cy="507" r="2.85"/><circle cx="162.9" cy="506.3" r="2.85"/><circle cx="185.8" cy="509" r="2.85"/><circle cx="174.1" cy="512.8" r="2.85"/><circle cx="186.2" cy="513.3" r="2.85"/><circle cx="206" cy="513.3" r="2.85"/><circle cx="162.2" cy="516.4" r="2.85"/><circle cx="160.9" cy="519.1" r="2.85"/><circle cx="156.2" cy="523.8" r="2.85"/><circle cx="153.5" cy="536" r="2.85"/><circle cx="186" cy="477.5" r="2.85"/><circle cx="192" cy="479" r="2.85"/><circle cx="196" cy="484" r="2.85"/><circle cx="185" cy="484.5" r="2.85"/><circle cx="193" cy="491" r="2.85"/><circle cx="180" cy="497.5" r="2.85"/><circle cx="186" cy="498" r="2.85"/><circle cx="183" cy="503.5" r="2.85"/><circle cx="235.6" cy="362.3" r="2.85"/><circle cx="239" cy="362.7" r="2.85"/><circle cx="239" cy="367" r="2.85"/><circle cx="240.7" cy="370.1" r="2.85"/><circle cx="239" cy="372.8" r="2.85"/><circle cx="239.6" cy="375.1" r="2.85"/><circle cx="236.7" cy="378.9" r="2.85"/><circle cx="243" cy="379.5" r="2.85"/><circle cx="248.8" cy="379.5" r="2.85"/><circle cx="250.4" cy="383.4" r="2.85"/><circle cx="243.7" cy="384.5" r="2.85"/><circle cx="234.9" cy="388.9" r="2.85"/><circle cx="239.6" cy="390.2" r="2.85"/><circle cx="245" cy="394.3" r="2.85"/><circle cx="239" cy="393.9" r="2.85"/><circle cx="238.3" cy="397.3" r="2.85"/><circle cx="244.6" cy="396.8" r="2.85"/><circle cx="238" cy="402.7" r="2.85"/><circle cx="246.8" cy="407.1" r="2.85"/><circle cx="235.9" cy="408.9" r="2.85"/><circle cx="239.6" cy="412.5" r="2.85"/><circle cx="240.6" cy="421.5" r="2.85"/><circle cx="239.6" cy="435.1" r="2.85"/><circle cx="242.3" cy="442.1" r="2.85"/><circle cx="228.5" cy="457.9" r="2.85"/><circle cx="208.7" cy="468.8" r="2.85"/><circle cx="226.2" cy="469.4" r="2.85"/><circle cx="218.1" cy="472.9" r="2.85"/><circle cx="214.1" cy="474.2" r="2.85"/><circle cx="226.2" cy="475.6" r="2.85"/><circle cx="213.5" cy="479.1" r="2.85"/><circle cx="206" cy="484.5" r="2.85"/><circle cx="209.2" cy="485.8" r="2.85"/><circle cx="255.8" cy="495.8" r="2.85"/><circle cx="253.7" cy="501.7" r="2.85"/><circle cx="211.4" cy="508.7" r="2.85"/><circle cx="206.8" cy="513.3" r="2.85"/><circle cx="218.7" cy="517.3" r="2.85"/><circle cx="226.7" cy="519.2" r="2.85"/><circle cx="227" cy="523.5" r="2.85"/><circle cx="292.7" cy="479.1" r="2.85"/><circle cx="316.4" cy="483.7" r="2.85"/><circle cx="311" cy="490.9" r="2.85"/><circle cx="325.3" cy="461.3" r="2.85"/><circle cx="343.5" cy="470.6" r="2.85"/><circle cx="323.8" cy="446.9" r="2.85"/><circle cx="327.3" cy="403.6" r="2.85"/><circle cx="374.4" cy="359.5" r="2.85"/><circle cx="372.9" cy="363.3" r="2.85"/><circle cx="374" cy="365.6" r="2.85"/><circle cx="372.9" cy="368.2" r="2.85"/><circle cx="367.7" cy="374.5" r="2.85"/><circle cx="374.6" cy="374.8" r="2.85"/><circle cx="377.5" cy="375.4" r="2.85"/><circle cx="369.4" cy="378.8" r="2.85"/><circle cx="372.9" cy="380.9" r="2.85"/><circle cx="368.3" cy="381.7" r="2.85"/><circle cx="383.3" cy="382.3" r="2.85"/><circle cx="366" cy="384" r="2.85"/><circle cx="370" cy="386.3" r="2.85"/><circle cx="374.6" cy="388.1" r="2.85"/><circle cx="379.8" cy="390.4" r="2.85"/><circle cx="375.8" cy="391.5" r="2.85"/><circle cx="372.9" cy="393.3" r="2.85"/><circle cx="378.1" cy="394.4" r="2.85"/><circle cx="371.2" cy="396.2" r="2.85"/><circle cx="381" cy="397.3" r="2.85"/><circle cx="376.9" cy="397.3" r="2.85"/><circle cx="372.3" cy="403.1" r="2.85"/><circle cx="378.7" cy="403.1" r="2.85"/><circle cx="369.4" cy="407.1" r="2.85"/><circle cx="376.9" cy="407.7" r="2.85"/><circle cx="371.2" cy="409.4" r="2.85"/><circle cx="374.6" cy="412.3" r="2.85"/><circle cx="381.5" cy="412.9" r="2.85"/><circle cx="378.1" cy="414" r="2.85"/><circle cx="369.4" cy="416.3" r="2.85"/><circle cx="373.5" cy="416.3" r="2.85"/><circle cx="376.9" cy="416.9" r="2.85"/><circle cx="381" cy="418.7" r="2.85"/><circle cx="373.5" cy="422.7" r="2.85"/><circle cx="352.7" cy="427.2" r="2.85"/><circle cx="382.1" cy="427.7" r="2.85"/><circle cx="374" cy="421.5" r="2.85"/><circle cx="371.2" cy="426.7" r="2.85"/><circle cx="370" cy="433.7" r="2.85"/><circle cx="367.3" cy="437.1" r="2.85"/><circle cx="372.9" cy="440" r="2.85"/><circle cx="354.2" cy="442.9" r="2.85"/><circle cx="355.3" cy="447.2" r="2.85"/><circle cx="368.8" cy="444.6" r="2.85"/><circle cx="367.1" cy="448" r="2.85"/><circle cx="375.8" cy="451" r="2.85"/><circle cx="365.4" cy="453.3" r="2.85"/><circle cx="377.5" cy="456.7" r="2.85"/><circle cx="370" cy="456" r="2.85"/><circle cx="373.5" cy="459.6" r="2.85"/><circle cx="365.4" cy="462.5" r="2.85"/><circle cx="375.8" cy="464.2" r="2.85"/><circle cx="370" cy="465.4" r="2.85"/><circle cx="361.3" cy="468.8" r="2.85"/><circle cx="368.8" cy="468.8" r="2.85"/><circle cx="363.7" cy="470.6" r="2.85"/><circle cx="367.1" cy="474" r="2.85"/><circle cx="371" cy="447" r="2.85"/><circle cx="373" cy="449.5" r="2.85"/><circle cx="369" cy="451.5" r="2.85"/><circle cx="372.5" cy="453.5" r="2.85"/><circle cx="368" cy="455" r="2.85"/><circle cx="374.5" cy="455.5" r="2.85"/><circle cx="371.5" cy="458" r="2.85"/><circle cx="367.5" cy="459" r="2.85"/><circle cx="376" cy="459.5" r="2.85"/><circle cx="369.5" cy="461.5" r="2.85"/><circle cx="373" cy="462.5" r="2.85"/><circle cx="366.5" cy="465.5" r="2.85"/><circle cx="372.5" cy="466" r="2.85"/><circle cx="365.5" cy="467.5" r="2.85"/><circle cx="370.5" cy="470" r="2.85"/><circle cx="366" cy="471.5" r="2.85"/><circle cx="374" cy="457" r="2.85"/><circle cx="377.5" cy="461" r="2.85"/><circle cx="364.5" cy="458" r="2.85"/><circle cx="371" cy="463.8" r="2.85"/><circle cx="368" cy="466.8" r="2.85"/><circle cx="376.5" cy="454" r="2.85"/><circle cx="154.58" cy="452.55" r="2.85"/><circle cx="157.78" cy="452.47" r="2.85"/><circle cx="154.95" cy="452.57" r="2.85"/><circle cx="152.76" cy="453.41" r="2.85"/><circle cx="155.78" cy="453.63" r="2.85"/><circle cx="152.14" cy="453.24" r="2.85"/><circle cx="152.12" cy="454.55" r="2.85"/><circle cx="156.22" cy="453.93" r="2.85"/><circle cx="158.18" cy="454.67" r="2.85"/><circle cx="155.95" cy="455.29" r="2.85"/><circle cx="152.57" cy="454.81" r="2.85"/><circle cx="155.09" cy="454.85" r="2.85"/><circle cx="152.79" cy="455.89" r="2.85"/><circle cx="151.7" cy="456.07" r="2.85"/><circle cx="154.5" cy="456.37" r="2.85"/><circle cx="155.03" cy="457.11" r="2.85"/><circle cx="154.9" cy="457.13" r="2.85"/><circle cx="154.61" cy="456.82" r="2.85"/><circle cx="158.28" cy="458.3" r="2.85"/><circle cx="157.21" cy="458.07" r="2.85"/><circle cx="153.64" cy="457.68" r="2.85"/><circle cx="153.47" cy="458.46" r="2.85"/><circle cx="156.71" cy="458.72" r="2.85"/><circle cx="157.26" cy="458.71" r="2.85"/><circle cx="158.01" cy="459.98" r="2.85"/><circle cx="151.5" cy="459.47" r="2.85"/><circle cx="157.69" cy="459.68" r="2.85"/><circle cx="158.17" cy="460.52" r="2.85"/><circle cx="152" cy="460.7" r="2.85"/><circle cx="156.79" cy="460.42" r="2.85"/><circle cx="152.09" cy="461.37" r="2.85"/><circle cx="158.06" cy="461.71" r="2.85"/><circle cx="152.3" cy="461.3" r="2.85"/><circle cx="152.19" cy="462.05" r="2.85"/><circle cx="156.92" cy="462.14" r="2.85"/><circle cx="155.3" cy="462.36" r="2.85"/><circle cx="152.8" cy="463.49" r="2.85"/><circle cx="152.39" cy="463.41" r="2.85"/><circle cx="152.29" cy="463.24" r="2.85"/><circle cx="152.95" cy="464.02" r="2.85"/><circle cx="158.1" cy="464.44" r="2.85"/><circle cx="153.57" cy="464.51" r="2.85"/><circle cx="152.93" cy="465.02" r="2.85"/><circle cx="157.31" cy="465.21" r="2.85"/><circle cx="152.18" cy="465.49" r="2.85"/><circle cx="152.95" cy="465.81" r="2.85"/><circle cx="156.75" cy="465.86" r="2.85"/><circle cx="153.52" cy="465.66" r="2.85"/><circle cx="152.11" cy="466.97" r="2.85"/><circle cx="153.15" cy="466.98" r="2.85"/><circle cx="154.03" cy="466.86" r="2.85"/><circle cx="158.02" cy="467.79" r="2.85"/><circle cx="155.41" cy="468.09" r="2.85"/><circle cx="152.74" cy="467.52" r="2.85"/><circle cx="157.68" cy="468.95" r="2.85"/><circle cx="153.2" cy="468.45" r="2.85"/><circle cx="156.53" cy="469.05" r="2.85"/><circle cx="152.84" cy="469.96" r="2.85"/><circle cx="157.5" cy="469.68" r="2.85"/><circle cx="154.37" cy="469.28" r="2.85"/><circle cx="151.61" cy="470.87" r="2.85"/><circle cx="153.23" cy="470.66" r="2.85"/><circle cx="153.38" cy="470.76" r="2.85"/><circle cx="156.13" cy="471.23" r="2.85"/><circle cx="152.72" cy="471.58" r="2.85"/><circle cx="151.86" cy="471.18" r="2.85"/><circle cx="155.83" cy="472.58" r="2.85"/><circle cx="156.28" cy="472.12" r="2.85"/><circle cx="158.73" cy="472.06" r="2.85"/><circle cx="151.43" cy="473.02" r="2.85"/><circle cx="154.91" cy="472.85" r="2.85"/><circle cx="152.73" cy="473.1" r="2.85"/><circle cx="155.93" cy="473.81" r="2.85"/><circle cx="154.23" cy="474.41" r="2.85"/><circle cx="159.24" cy="474.23" r="2.85"/><circle cx="156.9" cy="475.07" r="2.85"/><circle cx="152.44" cy="474.63" r="2.85"/><circle cx="151.44" cy="475.33" r="2.85"/><circle cx="156.98" cy="476.27" r="2.85"/><circle cx="151.47" cy="476.01" r="2.85"/><circle cx="155.21" cy="476.08" r="2.85"/><circle cx="153.88" cy="477.2" r="2.85"/><circle cx="151.91" cy="476.84" r="2.85"/><circle cx="157.27" cy="477.12" r="2.85"/><circle cx="157.27" cy="477.86" r="2.85"/><circle cx="157.73" cy="478.03" r="2.85"/><circle cx="154.15" cy="477.85" r="2.85"/><circle cx="158.6" cy="478.9" r="2.85"/><circle cx="154.68" cy="478.83" r="2.85"/><circle cx="158.29" cy="478.66" r="2.85"/><circle cx="156.36" cy="479.41" r="2.85"/><circle cx="156.02" cy="479.59" r="2.85"/><circle cx="151.95" cy="479.61" r="2.85"/><circle cx="159.35" cy="480.7" r="2.85"/><circle cx="157.2" cy="480.31" r="2.85"/><circle cx="157.25" cy="480.46" r="2.85"/><circle cx="154.87" cy="481.57" r="2.85"/><circle cx="151.98" cy="481.5" r="2.85"/><circle cx="151.54" cy="481.38" r="2.85"/><circle cx="155.2" cy="481.98" r="2.85"/><circle cx="156.96" cy="482.2" r="2.85"/><circle cx="156.28" cy="482.54" r="2.85"/><circle cx="153.37" cy="482.71" r="2.85"/><circle cx="153.74" cy="483.24" r="2.85"/><circle cx="152.94" cy="482.84" r="2.85"/><circle cx="158.64" cy="484.13" r="2.85"/><circle cx="154.88" cy="484.31" r="2.85"/><circle cx="153.95" cy="484.13" r="2.85"/><circle cx="152.91" cy="484.84" r="2.85"/><circle cx="157.83" cy="485.23" r="2.85"/><circle cx="158.43" cy="484.81" r="2.85"/><circle cx="156.02" cy="485.65" r="2.85"/><circle cx="152.4" cy="485.8" r="2.85"/><circle cx="158.08" cy="486.08" r="2.85"/><circle cx="157.06" cy="487.06" r="2.85"/><circle cx="153.54" cy="486.44" r="2.85"/><circle cx="154.95" cy="486.52" r="2.85"/><circle cx="153.03" cy="487.53" r="2.85"/><circle cx="156.37" cy="487.6" r="2.85"/><circle cx="153.85" cy="487.87" r="2.85"/><circle cx="159.25" cy="488.46" r="2.85"/><circle cx="151.9" cy="488.13" r="2.85"/><circle cx="158.37" cy="488.13" r="2.85"/><circle cx="157.04" cy="489.46" r="2.85"/><circle cx="153.8" cy="489.63" r="2.85"/><circle cx="151.45" cy="489.11" r="2.85"/><circle cx="154.98" cy="489.92" r="2.85"/><circle cx="158.02" cy="490.09" r="2.85"/><circle cx="152.44" cy="489.94" r="2.85"/><circle cx="156.4" cy="491.16" r="2.85"/><circle cx="156.4" cy="491.32" r="2.85"/><circle cx="157.84" cy="491.57" r="2.85"/><circle cx="156.84" cy="491.86" r="2.85"/><circle cx="155.15" cy="491.84" r="2.85"/><circle cx="151.39" cy="492.08" r="2.85"/><circle cx="157.08" cy="492.74" r="2.85"/><circle cx="153.51" cy="492.88" r="2.85"/><circle cx="156.95" cy="493.02" r="2.85"/><circle cx="156.28" cy="494.1" r="2.85"/><circle cx="154.49" cy="494.13" r="2.85"/><circle cx="158.64" cy="493.57" r="2.85"/><circle cx="158.85" cy="494.98" r="2.85"/><circle cx="152.35" cy="494.76" r="2.85"/><circle cx="156.37" cy="495.13" r="2.85"/><circle cx="154.35" cy="495.76" r="2.85"/><circle cx="158.42" cy="495.94" r="2.85"/><circle cx="158.95" cy="495.67" r="2.85"/><circle cx="156.58" cy="496.36" r="2.85"/><circle cx="157.15" cy="496.85" r="2.85"/><circle cx="156.5" cy="496.77" r="2.85"/><circle cx="153.03" cy="497.82" r="2.85"/><circle cx="159.24" cy="497.88" r="2.85"/><circle cx="155.65" cy="497.73" r="2.85"/><circle cx="153.9" cy="498.73" r="2.85"/><circle cx="158.23" cy="498.28" r="2.85"/><circle cx="151.97" cy="498.35" r="2.85"/><circle cx="155.76" cy="499.51" r="2.85"/><circle cx="155.25" cy="498.92" r="2.85"/><circle cx="157.85" cy="498.95" r="2.85"/><circle cx="157.32" cy="499.94" r="2.85"/><circle cx="153.88" cy="500.43" r="2.85"/><circle cx="152.44" cy="499.92" r="2.85"/><circle cx="155.22" cy="501.28" r="2.85"/><circle cx="157.62" cy="501.25" r="2.85"/><circle cx="158.4" cy="501.09" r="2.85"/><circle cx="158.42" cy="501.67" r="2.85"/><circle cx="153.04" cy="502.02" r="2.85"/><circle cx="153.55" cy="502.18" r="2.85"/><circle cx="156.13" cy="502.92" r="2.85"/><circle cx="157.64" cy="502.95" r="2.85"/><circle cx="153.71" cy="502.8" r="2.85"/><circle cx="157.65" cy="504.12" r="2.85"/><circle cx="152.94" cy="504.08" r="2.85"/><circle cx="158.57" cy="503.82" r="2.85"/><circle cx="155.64" cy="504.46" r="2.85"/><circle cx="155.37" cy="504.7" r="2.85"/><circle cx="155.88" cy="504.32" r="2.85"/><circle cx="158.57" cy="505.61" r="2.85"/><circle cx="154.36" cy="505.84" r="2.85"/><circle cx="155.57" cy="505.59" r="2.85"/><circle cx="156.51" cy="506.15" r="2.85"/><circle cx="155.39" cy="506.43" r="2.85"/><circle cx="158.48" cy="506.84" r="2.85"/><circle cx="153.39" cy="507.38" r="2.85"/><circle cx="152.34" cy="507.35" r="2.85"/><circle cx="157.44" cy="507.72" r="2.85"/><circle cx="154.93" cy="508.15" r="2.85"/><circle cx="152.82" cy="508.39" r="2.85"/><circle cx="158.25" cy="508" r="2.85"/><circle cx="157.17" cy="508.82" r="2.85"/><circle cx="152.84" cy="508.98" r="2.85"/><circle cx="156.48" cy="509.06" r="2.85"/><circle cx="154.03" cy="510.2" r="2.85"/><circle cx="152.18" cy="510.28" r="2.85"/><circle cx="152.31" cy="510.11" r="2.85"/><circle cx="153.25" cy="510.76" r="2.85"/><circle cx="155.32" cy="510.95" r="2.85"/><circle cx="154.18" cy="510.93" r="2.85"/><circle cx="155.32" cy="511.63" r="2.85"/><circle cx="152.91" cy="512.01" r="2.85"/><circle cx="156.12" cy="511.92" r="2.85"/><circle cx="156.35" cy="512.89" r="2.85"/><circle cx="156.38" cy="512.59" r="2.85"/><circle cx="155.72" cy="513.05" r="2.85"/><circle cx="156.65" cy="513.55" r="2.85"/><circle cx="153.3" cy="514.04" r="2.85"/><circle cx="152.74" cy="514.1" r="2.85"/><circle cx="156.56" cy="514.31" r="2.85"/><circle cx="152.86" cy="514.78" r="2.85"/><circle cx="152.98" cy="514.28" r="2.85"/><circle cx="156.24" cy="515.44" r="2.85"/><circle cx="156" cy="515.2" r="2.85"/><circle cx="153.8" cy="515.65" r="2.85"/><circle cx="151.6" cy="516.16" r="2.85"/><circle cx="155.39" cy="516.73" r="2.85"/><circle cx="157.02" cy="516.09" r="2.85"/><circle cx="154.38" cy="517.51" r="2.85"/><circle cx="154.37" cy="517.45" r="2.85"/><circle cx="152.58" cy="516.96" r="2.85"/><circle cx="152.11" cy="517.83" r="2.85"/><circle cx="154.64" cy="518.21" r="2.85"/><circle cx="154.74" cy="517.92" r="2.85"/><circle cx="152.55" cy="518.86" r="2.85"/><circle cx="156.29" cy="519.49" r="2.85"/><circle cx="156.78" cy="518.78" r="2.85"/><circle cx="151.85" cy="520.36" r="2.85"/><circle cx="154.13" cy="520.21" r="2.85"/><circle cx="153.36" cy="519.97" r="2.85"/><circle cx="154.44" cy="520.84" r="2.85"/><circle cx="154.93" cy="520.51" r="2.85"/><circle cx="155.5" cy="521.18" r="2.85"/><circle cx="152.53" cy="521.76" r="2.85"/><circle cx="154.76" cy="521.72" r="2.85"/><circle cx="152.58" cy="521.53" r="2.85"/><circle cx="153.85" cy="522.31" r="2.85"/><circle cx="155.37" cy="522.94" r="2.85"/><circle cx="154.62" cy="522.99" r="2.85"/><circle cx="154.32" cy="523.52" r="2.85"/><circle cx="154.2" cy="523.6" r="2.85"/><circle cx="155.73" cy="523.84" r="2.85"/><circle cx="152.83" cy="524.83" r="2.85"/><circle cx="154.78" cy="524.72" r="2.85"/><circle cx="155.06" cy="524.42" r="2.85"/><circle cx="155.39" cy="525.7" r="2.85"/><circle cx="154.58" cy="525.61" r="2.85"/><circle cx="154.86" cy="525.32" r="2.85"/><circle cx="154.69" cy="525.96" r="2.85"/><circle cx="153.17" cy="526.28" r="2.85"/><circle cx="151.84" cy="526.18" r="2.85"/><circle cx="154.35" cy="527.3" r="2.85"/><circle cx="152.73" cy="527.56" r="2.85"/><circle cx="154.46" cy="527.07" r="2.85"/><circle cx="154.44" cy="528.16" r="2.85"/><circle cx="153.93" cy="528.01" r="2.85"/><circle cx="155.8" cy="528.21" r="2.85"/><circle cx="154.61" cy="529.21" r="2.85"/><circle cx="155.72" cy="528.62" r="2.85"/><circle cx="154.26" cy="529.19" r="2.85"/><circle cx="152.83" cy="529.82" r="2.85"/><circle cx="152" cy="529.66" r="2.85"/><circle cx="153.3" cy="529.58" r="2.85"/><circle cx="152.8" cy="531.12" r="2.85"/><circle cx="153.76" cy="530.81" r="2.85"/><circle cx="155.09" cy="530.85" r="2.85"/><circle cx="155.18" cy="531.81" r="2.85"/><circle cx="154.59" cy="531.36" r="2.85"/><circle cx="153.91" cy="531.91" r="2.85"/><circle cx="152.14" cy="532.94" r="2.85"/><circle cx="152.51" cy="532.58" r="2.85"/><circle cx="152.54" cy="532.6" r="2.85"/><circle cx="153.96" cy="533.15" r="2.85"/><circle cx="155.02" cy="533.44" r="2.85"/><circle cx="153.69" cy="533.58" r="2.85"/><circle cx="153.17" cy="534.23" r="2.85"/><circle cx="154.1" cy="534.45" r="2.85"/><circle cx="152.91" cy="534.57" r="2.85"/><circle cx="159.5" cy="474" r="2.85"/><circle cx="160" cy="478" r="2.85"/><circle cx="160.3" cy="483" r="2.85"/><circle cx="159.8" cy="487" r="2.85"/><circle cx="160.2" cy="495" r="2.85"/><circle cx="159.5" cy="499" r="2.85"/><circle cx="160" cy="509" r="2.85"/><circle cx="159" cy="513" r="2.85"/><circle cx="158.2" cy="519" r="2.85"/><circle cx="159.5" cy="468.5" r="2.85"/><circle cx="160" cy="463" r="2.85"/><circle cx="158.5" cy="458.5" r="2.85"/></g>
<path d="M150.8 479.71L160.47 477.5L170.14 475.2L179.81 472.79L189.48 470.32L199.15 467.84L208.83 465.35L218.5 462.85L228.17 460.34L237.84 457.83L247.51 455.3L257.18 452.77L266.85 450.23L276.52 447.69L286.19 445.14L295.86 442.58L305.53 440.03L315.2 437.46L324.88 434.9L334.55 432.33L344.22 429.76L353.89 427.18L363.56 424.61L373.23 422.03L382.9 419.45L382.9 426.55L373.23 428.89L363.56 431.24L353.89 433.58L344.22 435.93L334.55 438.28L324.88 440.64L315.2 442.99L305.53 445.35L295.86 447.72L286.19 450.09L276.52 452.46L266.85 454.84L257.18 457.22L247.51 459.61L237.84 462.01L228.17 464.42L218.5 466.83L208.83 469.25L199.15 471.69L189.48 474.13L179.81 476.59L170.14 479.09L160.47 481.71L150.8 484.43Z" fill="#aaa" fill-opacity="0.42"/>
<path d="M150.8 482.07 L382.9 423" stroke="#243444" stroke-width="1.2" fill="none"/>
<path d="M139.4 294.6 V548 H394.2" stroke="#333" stroke-width="0.8" fill="none"/>
<g stroke="#333" stroke-width="0.7">
<path d="M137.5 306.2 H139.4"/>
<path d="M137.5 393.4 H139.4"/>
<path d="M137.5 480.6 H139.4"/>
<path d="M150.8 548 V549.9"/>
<path d="M196.98 548 V549.9"/>
<path d="M243.16 548 V549.9"/>
<path d="M289.34 548 V549.9"/>
<path d="M335.52 548 V549.9"/>
<path d="M381.7 548 V549.9"/>
</g>
<g font-family='"Liberation Sans", sans-serif' font-size="4.9" fill="#5a5a5a">
<text x="136.2" y="308.7" text-anchor="end">6</text>
<text x="136.2" y="395.9" text-anchor="end">4</text>
<text x="136.2" y="483.1" text-anchor="end">2</text>
<text x="150.8" y="555" text-anchor="middle">0</text>
<text x="196.98" y="555" text-anchor="middle">10</text>
<text x="243.16" y="555" text-anchor="middle">20</text>
<text x="289.34" y="555" text-anchor="middle">30</text>
<text x="335.52" y="555" text-anchor="middle">40</text>
<text x="381.7" y="555" text-anchor="middle">50</text>
</g>
<text x="266.8" y="561.6" font-family='"Liberation Sans", sans-serif' font-size="6.4" fill="#111" text-anchor="middle">GWAS (-log<tspan font-size="4.4" dy="1">10</tspan><tspan dy="-1"> p-value)</tspan></text>
<text transform="translate(130.2 421.2) rotate(-90)" font-family='"Liberation Sans", sans-serif' font-size="6.4" fill="#111" text-anchor="middle">Minimal QTL (-log<tspan font-size="4.4" dy="1">10</tspan><tspan dy="-1"> p-value)</tspan></text>
</g>
<g id="fig3">
<g fill="#000"><circle cx="157.2" cy="860.4" r="3.35"/><circle cx="169.8" cy="808.7" r="3.35"/><circle cx="171.1" cy="822.2" r="3.35"/><circle cx="174.8" cy="787.2" r="3.35"/><circle cx="178.8" cy="767.2" r="3.35"/><circle cx="179.7" cy="793.3" r="3.35"/><circle cx="184.9" cy="793.3" r="3.35"/><circle cx="182.8" cy="807.5" r="3.35"/><circle cx="196.9" cy="797.6" r="3.35"/><circle cx="203.1" cy="789.6" r="3.35"/><circle cx="217.5" cy="844.1" r="3.35"/><circle cx="224.3" cy="842.5" r="3.35"/><circle cx="229.8" cy="790.2" r="3.35"/><circle cx="230.5" cy="758.5" r="3.35"/><circle cx="237.2" cy="750.5" r="3.35"/><circle cx="256.5" cy="809" r="3.35"/><circle cx="275.7" cy="790.8" r="3.35"/><circle cx="267.7" cy="704.4" r="3.35"/><circle cx="387.4" cy="661" r="3.35"/></g>
<path d="M157.2 801.3L162.95 798.92L168.71 796.45L174.46 793.9L180.22 791.24L185.97 788.47L191.73 785.56L197.48 782.5L203.24 779.27L208.99 775.88L214.75 772.31L220.5 768.57L226.26 764.66L232.01 760.61L237.77 756.41L243.52 752.09L249.28 747.65L255.03 743.1L260.79 738.48L266.54 733.77L272.3 729L278.05 724.17L283.81 719.29L289.56 714.37L295.32 709.41L301.07 704.42L306.83 699.4L312.58 694.36L318.34 689.3L324.09 684.21L329.85 679.11L335.61 674L341.36 668.87L347.12 663.73L352.87 658.58L358.62 653.42L364.38 648.25L370.13 643.07L375.89 637.89L381.64 632.7L387.4 627.5L387.4 737.5L381.64 739.46L375.89 741.42L370.13 743.39L364.38 745.37L358.62 747.36L352.87 749.35L347.12 751.36L341.36 753.37L335.61 755.4L329.85 757.44L324.09 759.49L318.34 761.56L312.58 763.65L306.83 765.77L301.07 767.9L295.32 770.07L289.56 772.26L283.81 774.5L278.05 776.78L272.3 779.1L266.54 781.48L260.79 783.93L255.03 786.46L249.28 789.07L243.52 791.79L237.77 794.62L232.01 797.58L226.26 800.68L220.5 803.93L214.75 807.34L208.99 810.93L203.24 814.69L197.48 818.62L191.73 822.71L185.97 826.96L180.22 831.34L174.46 835.83L168.71 840.44L162.95 845.13L157.2 849.9Z" fill="#999" fill-opacity="0.4"/>
<path d="M157.2 825.6 L387.4 682.5" stroke="#2c3e50" stroke-width="1.15" fill="none"/>
<path d="M145.6 615.2 V871 H398.6" stroke="#333" stroke-width="0.85" fill="none"/>
<g stroke="#333" stroke-width="0.75">
<path d="M143.7 618.3 H145.6"/>
<path d="M143.7 682.9 H145.6"/>
<path d="M143.7 747.5 H145.6"/>
<path d="M143.7 812 H145.6"/>
<path d="M149.9 871 V872.9"/>
<path d="M201.6 871 V872.9"/>
<path d="M253.3 871 V872.9"/>
<path d="M305.1 871 V872.9"/>
<path d="M356.8 871 V872.9"/>
</g>
<g font-family='"Liberation Sans", sans-serif' font-size="6.9" fill="#4d4d4d">
<text x="142.4" y="620.75" text-anchor="end">0.9</text>
<text x="142.4" y="685.35" text-anchor="end">0.6</text>
<text x="142.4" y="749.95" text-anchor="end">0.3</text>
<text x="142.4" y="814.45" text-anchor="end">0.0</text>
<text x="149.9" y="879.9" text-anchor="middle">0.025</text>
<text x="201.6" y="879.9" text-anchor="middle">0.050</text>
<text x="253.3" y="879.9" text-anchor="middle">0.075</text>
<text x="305.1" y="879.9" text-anchor="middle">0.100</text>
<text x="356.8" y="879.9" text-anchor="middle">0.125</text>
</g>
<text x="272.7" y="890" font-family='"Liberation Sans", sans-serif' font-size="8.94" fill="#111" text-anchor="middle">Telomere Length Association</text>
<text transform="translate(128.3 743.8) rotate(-90)" font-family='"Liberation Sans", sans-serif' font-size="8.94" fill="#111" text-anchor="middle">Myelofibrosis Association</text>
</g>
<g id="fig4">
<path d="M134.05 972H391.6v1H134.05ZM134.05 973H391.6v1H134.05ZM134.05 974H391.6v1H134.05ZM134.05 975H391.6v1H134.05ZM134.05 976H391.6v1H134.05ZM134.05 977H391.6v1H134.05ZM134.05 978H391.6v1H134.05ZM134.05 979H391.6v1H134.05ZM134.05 980H391.6v1H134.05ZM134.05 981H391.6v1H134.05ZM134.05 982H391.6v1H134.05ZM134.05 983H391.6v1H134.05ZM134.05 984H391.6v1H134.05ZM134.05 985H391.6v1H134.05ZM134.05 986H391.6v1H134.05ZM134.05 987H391.6v1H134.05ZM134.05 988H216.75v1H134.05ZM134.05 989H214.5v1H134.05ZM134.05 990H211.67v1H134.05ZM134.05 991H209v1H134.05ZM134.05 992H205.33v1H134.05ZM134.05 993H202.05v1H134.05ZM134.05 994H199.15v1H134.05ZM134.05 995H196.27v1H134.05ZM134.05 996H193.43v1H134.05ZM134.05 997H189.5v1H134.05ZM134.05 998H183.5v1H134.05ZM134.05 999H175.1v1H134.05ZM134.05 1000H166.22v1H134.05ZM134.05 1001H157.78v1H134.05Z" fill="#25a47d"/>
<path d="M134.05 973H391.6v1H134.05ZM134.05 976H391.6v1H134.05ZM134.05 979H391.6v1H134.05ZM134.05 982H391.6v1H134.05ZM134.05 985H391.6v1H134.05ZM134.05 988H216.75v1H134.05ZM134.05 991H209v1H134.05ZM134.05 994H199.15v1H134.05ZM134.05 997H189.5v1H134.05ZM134.05 1000H166.22v1H134.05Z" fill="#4bb898"/>
<path d="M134.05 974H391.6v1H134.05ZM134.05 977H391.6v1H134.05ZM134.05 980H391.6v1H134.05ZM134.05 983H391.6v1H134.05ZM134.05 986H391.6v1H134.05ZM134.05 989H214.5v1H134.05ZM134.05 992H205.33v1H134.05ZM134.05 995H196.27v1H134.05ZM134.05 998H183.5v1H134.05ZM134.05 1001H157.78v1H134.05Z" fill="#4bb898" fill-opacity="0.45"/>
<path d="M134.05 972H198v1H134.05ZM134.05 980H197.7v1H134.05ZM134.05 981H197.7v1H134.05ZM134.05 984H160v1H134.05Z" fill="#6fc4a8"/>
<path d="M134.05 973H198v1H134.05ZM134.05 978H160.7v1H134.05ZM134.05 983H170v1H134.05ZM134.05 988H197.7v1H134.05ZM134.05 992H185.7v1H134.05ZM134.05 994H180v1H134.05ZM134.05 1000H149.8v1H134.05ZM134.05 1001H149.8v1H134.05Z" fill="#a5dbc7"/>
<path d="M134.05 974H198v1H134.05ZM134.05 975H198v1H134.05ZM134.05 976H263v1H134.05ZM134.05 985H263v1H134.05ZM134.05 986H183.8v1H134.05Z" fill="#d3eee5"/>
<path d="M134.05 1002.1H391.6v0.8H134.05Z" fill="#eba877"/>
<path d="M280.8 1003.2H361.6v0.9H280.8Z M338.5 1004.1H349v0.9H338.5Z M352.4 1002.7H361.6v0.6H352.4Z" fill="#d9691c"/>
<path d="M270 1004.4H293.5v0.9H270Z M272.5 1005.7H293v0.9H272.5Z" fill="#f3c3a0"/>
<path d="M306 1004.6H322.4v0.9H306Z" fill="#e89a62"/>
<path d="M134.05 1007H205v1H134.05ZM134.05 1008H203.88v1H134.05ZM134.05 1009H201v1H134.05ZM134.05 1010H199v1H134.05ZM134.05 1011H195.87v1H134.05ZM134.05 1012H193.52v1H134.05ZM134.05 1013H191.97v1H134.05ZM134.05 1014H188.79v1H134.05ZM134.05 1015H184.74v1H134.05ZM134.05 1016H179.96v1H134.05ZM134.05 1017H171.89v1H134.05ZM134.05 1018H161.73v1H134.05ZM134.05 1019H151v1H134.05ZM134.05 1020H145.55v1H134.05Z" fill="#d9691c"/>
<path d="M134.05 1008H203.88v1H134.05ZM134.05 1011H195.87v1H134.05ZM134.05 1014H188.79v1H134.05ZM134.05 1017H171.89v1H134.05ZM134.05 1020H145.55v1H134.05Z" fill="#e08a50"/>
<path d="M134.05 1009H201v1H134.05ZM134.05 1012H193.52v1H134.05ZM134.05 1015H184.74v1H134.05ZM134.05 1018H161.73v1H134.05Z" fill="#e08a50" fill-opacity="0.45"/>
<path d="M134.05 1021H391.6v1H134.05ZM134.05 1022H391.6v1H134.05ZM134.05 1023H391.6v1H134.05ZM134.05 1024H391.6v1H134.05ZM134.05 1025H391.6v1H134.05ZM134.05 1026H391.6v1H134.05ZM134.05 1027H391.6v1H134.05ZM134.05 1028H391.6v1H134.05ZM134.05 1029H391.6v1H134.05ZM134.05 1030H391.6v1H134.05ZM134.05 1031H391.6v1H134.05ZM134.05 1032H391.6v1H134.05ZM134.05 1033H391.6v1H134.05ZM134.05 1034H238.1v1H134.05ZM134.05 1035H220.27v1H134.05ZM134.05 1036H213v1H134.05ZM134.05 1037H211.05v1H134.05ZM134.05 1038H209.09v1H134.05ZM134.05 1039H208.36v1H134.05ZM134.05 1040H207.94v1H134.05ZM134.05 1041H207.52v1H134.05ZM134.05 1042H207.1v1H134.05ZM134.05 1043H206.68v1H134.05ZM134.05 1044H206.26v1H134.05ZM134.05 1045H205.84v1H134.05ZM134.05 1046H205.42v1H134.05ZM134.05 1047H205v1H134.05ZM134.05 1048H204.75v1H134.05ZM134.05 1049H204.5v1H134.05ZM134.05 1050H204.25v1H134.05ZM134.05 1051H204v1H134.05ZM134.05 1052H203.75v1H134.05ZM134.05 1053H203.5v1H134.05ZM134.05 1054H203.25v1H134.05ZM134.05 1055H203v1H134.05ZM134.05 1056H202.75v1H134.05ZM134.05 1057H202.5v1H134.05ZM134.05 1058H202.3v1H134.05ZM134.05 1059H202.1v1H134.05ZM134.05 1060H201.9v1H134.05ZM134.05 1061H201.7v1H134.05ZM134.05 1062H201.5v1H134.05ZM134.05 1063H201.3v1H134.05ZM134.05 1064H201.1v1H134.05ZM134.05 1065H200.9v1H134.05ZM134.05 1066H200.7v1H134.05ZM134.05 1067H200.5v1H134.05ZM134.05 1068H200.3v1H134.05ZM134.05 1069H200.1v1H134.05ZM134.05 1070H199.9v1H134.05ZM134.05 1071H199.7v1H134.05ZM134.05 1072H199.5v1H134.05ZM134.05 1073H199.32v1H134.05ZM134.05 1074H199.13v1H134.05ZM134.05 1075H198.95v1H134.05ZM134.05 1076H198.77v1H134.05ZM134.05 1077H198.59v1H134.05ZM134.05 1078H198.4v1H134.05ZM134.05 1079H198.22v1H134.05ZM134.05 1080H198.04v1H134.05ZM134.05 1081H197.85v1H134.05ZM134.05 1082H197.67v1H134.05ZM134.05 1083H197.49v1H134.05ZM134.05 1084H197.31v1H134.05ZM134.05 1085H197.12v1H134.05ZM134.05 1086H196.94v1H134.05ZM134.05 1087H196.76v1H134.05ZM134.05 1088H196.57v1H134.05ZM134.05 1089H196.39v1H134.05ZM134.05 1090H196.24v1H134.05ZM134.05 1091H196.13v1H134.05ZM134.05 1092H196.02v1H134.05ZM134.05 1093H195.9v1H134.05ZM134.05 1094H195.79v1H134.05ZM134.05 1095H195.68v1H134.05ZM134.05 1096H195.56v1H134.05ZM134.05 1097H195.45v1H134.05ZM134.05 1098H195.34v1H134.05ZM134.05 1099H195.22v1H134.05ZM134.05 1100H195.11v1H134.05ZM134.05 1101H195v1H134.05ZM134.05 1102H194.88v1H134.05ZM134.05 1103H194.77v1H134.05ZM134.05 1104H194.66v1H134.05ZM134.05 1105H194.52v1H134.05ZM134.05 1106H194.36v1H134.05ZM134.05 1107H194.2v1H134.05ZM134.05 1108H194.04v1H134.05ZM134.05 1109H193.88v1H134.05ZM134.05 1110H193.72v1H134.05ZM134.05 1111H193.56v1H134.05ZM134.05 1112H193.4v1H134.05ZM134.05 1113H193.24v1H134.05ZM134.05 1114H193.08v1H134.05ZM134.05 1115H192.86v1H134.05ZM134.05 1116H192.58v1H134.05ZM134.05 1117H192.3v1H134.05ZM134.05 1118H191.6v1H134.05ZM134.05 1119H190.9v1H134.05ZM134.05 1120H190.2v1H134.05ZM134.05 1121H189.5v1H134.05ZM134.05 1122H188.8v1H134.05ZM134.05 1123H188.43v1H134.05ZM134.05 1124H188.05v1H134.05ZM134.05 1125H187.68v1H134.05ZM134.05 1126H187.31v1H134.05ZM134.05 1127H186.93v1H134.05ZM134.05 1128H186.56v1H134.05ZM134.05 1129H186.19v1H134.05ZM134.05 1130H185.95v1H134.05ZM134.05 1131H185.85v1H134.05ZM134.05 1132H185.75v1H134.05ZM134.05 1133H185.65v1H134.05ZM134.05 1134H185.55v1H134.05ZM134.05 1135H185.45v1H134.05ZM134.05 1136H185.35v1H134.05ZM134.05 1137H185.25v1H134.05ZM134.05 1138H185.15v1H134.05ZM134.05 1139H185.05v1H134.05ZM134.05 1140H184.58v1H134.05ZM134.05 1141H183.75v1H134.05ZM134.05 1142H182.92v1H134.05ZM134.05 1143H182.08v1H134.05ZM134.05 1144H181.25v1H134.05ZM134.05 1145H180.42v1H134.05ZM134.05 1146H179.66v1H134.05ZM134.05 1147H178.97v1H134.05ZM134.05 1148H178.28v1H134.05ZM134.05 1149H177.59v1H134.05ZM134.05 1150H176.9v1H134.05ZM134.05 1151H176.21v1H134.05ZM134.05 1152H175.52v1H134.05ZM134.05 1153H174.83v1H134.05ZM134.05 1154H174.14v1H134.05ZM134.05 1155H173.28v1H134.05ZM134.05 1156H172.23v1H134.05ZM134.05 1157H171.18v1H134.05ZM134.05 1158H170.12v1H134.05ZM134.05 1159H169.07v1H134.05ZM134.05 1160H168.03v1H134.05ZM134.05 1161H167.08v1H134.05ZM134.05 1162H166.23v1H134.05ZM134.05 1163H165.38v1H134.05ZM134.05 1164H164.54v1H134.05ZM134.05 1165H163.69v1H134.05ZM134.05 1166H162.85v1H134.05ZM134.05 1167H162v1H134.05ZM134.05 1168H161.76v1H134.05ZM134.05 1169H161.53v1H134.05ZM134.05 1170H161.29v1H134.05ZM134.05 1171H161.06v1H134.05ZM134.05 1172H160.82v1H134.05ZM134.05 1173H160.59v1H134.05ZM134.05 1174H160.35v1H134.05ZM134.05 1175H160.12v1H134.05ZM134.05 1176H159.38v1H134.05ZM134.05 1177H158.12v1H134.05ZM134.05 1178H156.88v1H134.05ZM134.05 1179H155.62v1H134.05ZM134.05 1180H154.38v1H134.05ZM134.05 1181H153.14v1H134.05ZM134.05 1182H151.9v1H134.05ZM134.05 1183H150.66v1H134.05ZM134.05 1184H149.42v1H134.05ZM134.05 1185H148.13v1H134.05ZM134.05 1186H146.78v1H134.05ZM134.05 1187H145.43v1H134.05ZM134.05 1188H144.08v1H134.05Z" fill="#2580bc"/>
<path d="M134.05 1022H391.6v1H134.05ZM134.05 1025H391.6v1H134.05ZM134.05 1028H391.6v1H134.05ZM134.05 1031H391.6v1H134.05ZM134.05 1034H238.1v1H134.05ZM134.05 1037H211.05v1H134.05ZM134.05 1040H207.94v1H134.05ZM134.05 1043H206.68v1H134.05ZM134.05 1046H205.42v1H134.05ZM134.05 1049H204.5v1H134.05ZM134.05 1052H203.75v1H134.05ZM134.05 1055H203v1H134.05ZM134.05 1058H202.3v1H134.05ZM134.05 1061H201.7v1H134.05ZM134.05 1064H201.1v1H134.05ZM134.05 1067H200.5v1H134.05ZM134.05 1070H199.9v1H134.05ZM134.05 1073H199.32v1H134.05ZM134.05 1076H198.77v1H134.05ZM134.05 1079H198.22v1H134.05ZM134.05 1082H197.67v1H134.05ZM134.05 1085H197.12v1H134.05ZM134.05 1088H196.57v1H134.05ZM134.05 1091H196.13v1H134.05ZM134.05 1094H195.79v1H134.05ZM134.05 1097H195.45v1H134.05ZM134.05 1100H195.11v1H134.05ZM134.05 1103H194.77v1H134.05ZM134.05 1106H194.36v1H134.05ZM134.05 1109H193.88v1H134.05ZM134.05 1112H193.4v1H134.05ZM134.05 1115H192.86v1H134.05ZM134.05 1118H191.6v1H134.05ZM134.05 1121H189.5v1H134.05ZM134.05 1124H188.05v1H134.05ZM134.05 1127H186.93v1H134.05ZM134.05 1130H185.95v1H134.05ZM134.05 1133H185.65v1H134.05ZM134.05 1136H185.35v1H134.05ZM134.05 1139H185.05v1H134.05ZM134.05 1142H182.92v1H134.05ZM134.05 1145H180.42v1H134.05ZM134.05 1148H178.28v1H134.05ZM134.05 1151H176.21v1H134.05ZM134.05 1154H174.14v1H134.05ZM134.05 1157H171.18v1H134.05ZM134.05 1160H168.03v1H134.05ZM134.05 1163H165.38v1H134.05ZM134.05 1166H162.85v1H134.05ZM134.05 1169H161.53v1H134.05ZM134.05 1172H160.82v1H134.05ZM134.05 1175H160.12v1H134.05ZM134.05 1178H156.88v1H134.05ZM134.05 1181H153.14v1H134.05ZM134.05 1184H149.42v1H134.05ZM134.05 1187H145.43v1H134.05Z" fill="#4a98c9"/>
<path d="M134.05 1023H391.6v1H134.05ZM134.05 1026H391.6v1H134.05ZM134.05 1029H391.6v1H134.05ZM134.05 1032H391.6v1H134.05ZM134.05 1035H220.27v1H134.05ZM134.05 1038H209.09v1H134.05ZM134.05 1041H207.52v1H134.05ZM134.05 1044H206.26v1H134.05ZM134.05 1047H205v1H134.05ZM134.05 1050H204.25v1H134.05ZM134.05 1053H203.5v1H134.05ZM134.05 1056H202.75v1H134.05ZM134.05 1059H202.1v1H134.05ZM134.05 1062H201.5v1H134.05ZM134.05 1065H200.9v1H134.05ZM134.05 1068H200.3v1H134.05ZM134.05 1071H199.7v1H134.05ZM134.05 1074H199.13v1H134.05ZM134.05 1077H198.59v1H134.05ZM134.05 1080H198.04v1H134.05ZM134.05 1083H197.49v1H134.05ZM134.05 1086H196.94v1H134.05ZM134.05 1089H196.39v1H134.05ZM134.05 1092H196.02v1H134.05ZM134.05 1095H195.68v1H134.05ZM134.05 1098H195.34v1H134.05ZM134.05 1101H195v1H134.05ZM134.05 1104H194.66v1H134.05ZM134.05 1107H194.2v1H134.05ZM134.05 1110H193.72v1H134.05ZM134.05 1113H193.24v1H134.05ZM134.05 1116H192.58v1H134.05ZM134.05 1119H190.9v1H134.05ZM134.05 1122H188.8v1H134.05ZM134.05 1125H187.68v1H134.05ZM134.05 1128H186.56v1H134.05ZM134.05 1131H185.85v1H134.05ZM134.05 1134H185.55v1H134.05ZM134.05 1137H185.25v1H134.05ZM134.05 1140H184.58v1H134.05ZM134.05 1143H182.08v1H134.05ZM134.05 1146H179.66v1H134.05ZM134.05 1149H177.59v1H134.05ZM134.05 1152H175.52v1H134.05ZM134.05 1155H173.28v1H134.05ZM134.05 1158H170.12v1H134.05ZM134.05 1161H167.08v1H134.05ZM134.05 1164H164.54v1H134.05ZM134.05 1167H162v1H134.05ZM134.05 1170H161.29v1H134.05ZM134.05 1173H160.59v1H134.05ZM134.05 1176H159.38v1H134.05ZM134.05 1179H155.62v1H134.05ZM134.05 1182H151.9v1H134.05ZM134.05 1185H148.13v1H134.05ZM134.05 1188H144.08v1H134.05Z" fill="#4a98c9" fill-opacity="0.45"/>
<path d="M134.05 1032H186v1H134.05ZM134.05 1037H198v1H134.05ZM134.05 1050H199.52v1H134.05ZM134.05 1051H193.28v1H134.05ZM134.05 1056H191.91v1H134.05ZM134.05 1057H177.49v1H134.05ZM134.05 1058H177.36v1H134.05ZM134.05 1082H187.02v1H134.05ZM134.05 1090H165.74v1H134.05ZM134.05 1091H182.68v1H134.05ZM134.05 1097H167.33v1H134.05ZM134.05 1098H174.41v1H134.05ZM134.05 1108H167.22v1H134.05ZM134.05 1109H159.21v1H134.05ZM134.05 1135H156.06v1H134.05ZM134.05 1136H156.98v1H134.05ZM134.05 1143H168.77v1H134.05Z" fill="#6ba9d3"/>
<path d="M134.05 1021H145v1H134.05ZM134.05 1022H198v1H134.05ZM134.05 1025H179v1H134.05ZM165.5 1027H183.8v1H165.5ZM134.05 1030H153v1H134.05ZM134.05 1034H238.1v1H134.05ZM200 1035H218v1H200ZM134.05 1036H210.74v1H134.05ZM134.05 1039H146.01v1H134.05ZM196.79 1041H204.06v1H196.79ZM134.05 1043H141.66v1H134.05ZM134.05 1045H191.67v1H134.05ZM134.05 1048H200.77v1H134.05ZM134.05 1052H182.01v1H134.05ZM134.05 1053H191.25v1H134.05ZM134.05 1054H162.25v1H134.05ZM134.05 1055H140.04v1H134.05ZM134.05 1059H145.43v1H134.05ZM134.05 1063H173.26v1H134.05ZM134.05 1065H188.22v1H134.05ZM149.98 1066H177.74v1H149.98ZM134.05 1068H137.04v1H134.05ZM134.05 1071H143.27v1H134.05ZM153.24 1072H164.47v1H153.24ZM165.2 1074H170.07v1H165.2ZM134.05 1075H168.62v1H134.05ZM134.05 1076H190.27v1H134.05ZM167.59 1077H193.59v1H167.59ZM161.96 1085H185.79v1H161.96ZM134.05 1086H160.94v1H134.05ZM134.05 1087H184.2v1H134.05ZM134.05 1088H192.02v1H134.05ZM134.05 1089H176.82v1H134.05ZM134.05 1095H178.85v1H134.05ZM134.05 1096H183.8v1H134.05ZM141.2 1099H163.87v1H141.2ZM167.02 1100H171.53v1H167.02ZM145.53 1101H167.99v1H145.53ZM134.05 1102H145.91v1H134.05ZM134.05 1105H162.56v1H134.05ZM134.05 1110H168.47v1H134.05ZM134.05 1111H169.43v1H134.05ZM134.05 1112H138.71v1H134.05ZM134.05 1113H164.57v1H134.05ZM134.05 1116H137.62v1H134.05ZM134.05 1117H139.74v1H134.05ZM134.05 1119H163.1v1H134.05ZM134.05 1120H159.06v1H134.05ZM134.05 1124H139.51v1H134.05ZM134.05 1126H162.26v1H134.05ZM134.05 1127H156.22v1H134.05ZM134.05 1128H169.35v1H134.05ZM134.05 1129H149.54v1H134.05ZM134.05 1132H141.6v1H134.05ZM134.05 1133H143.03v1H134.05ZM134.05 1138H170.57v1H134.05ZM134.05 1139H168.6v1H134.05ZM134.05 1141H149.03v1H134.05ZM134.05 1142H155.89v1H134.05ZM134.05 1146H137.74v1H134.05ZM134.05 1149H159.3v1H134.05ZM144.03 1151H156.63v1H144.03ZM134.05 1154H155.16v1H134.05ZM134.05 1155H144.37v1H134.05ZM134.05 1158H141.65v1H134.05ZM134.05 1159H141.16v1H134.05ZM134.05 1160H139.32v1H134.05ZM134.05 1163H139.51v1H134.05ZM134.05 1164H157.27v1H134.05ZM134.05 1167H142.87v1H134.05ZM143 1168H147.72v1H143ZM134.05 1174H147.81v1H134.05ZM134.05 1175H151.96v1H134.05ZM134.05 1176H145.76v1H134.05ZM134.05 1178H142.67v1H134.05ZM134.05 1183H138.65v1H134.05ZM134.05 1184H146.09v1H134.05ZM134.05 1185H141.77v1H134.05ZM134.05 1186H143.26v1H134.05Z" fill="#b4d5ec"/>
<path d="M134.05 1027H165.5v1H134.05ZM134.05 1028H262.5v1H134.05ZM134.05 1033H262.5v1H134.05ZM134.05 1035H200v1H134.05ZM134.05 1038H191.22v1H134.05ZM134.05 1041H196.79v1H134.05ZM134.05 1061H180.62v1H134.05ZM134.05 1064H193.59v1H134.05ZM134.05 1066H149.98v1H134.05ZM134.05 1067H181.8v1H134.05ZM134.05 1072H153.24v1H134.05ZM134.05 1073H167.77v1H134.05ZM134.05 1074H165.2v1H134.05ZM134.05 1077H167.59v1H134.05ZM134.05 1078H190.5v1H134.05ZM134.05 1079H178.92v1H134.05ZM134.05 1080H195.32v1H134.05ZM134.05 1081H179.84v1H134.05ZM134.05 1085H161.96v1H134.05ZM134.05 1092H192.91v1H134.05ZM134.05 1093H172.95v1H134.05ZM134.05 1099H141.2v1H134.05ZM134.05 1100H167.02v1H134.05ZM134.05 1101H145.53v1H134.05ZM134.05 1114H161.17v1H134.05ZM134.05 1115H149.72v1H134.05ZM134.05 1123H151.41v1H134.05ZM134.05 1137H170.64v1H134.05ZM134.05 1150H151.03v1H134.05ZM134.05 1151H144.03v1H134.05ZM134.05 1168H143v1H134.05Z" fill="#eaf3fa"/>
<path d="M134.05 1189.5H391.6v1H134.05ZM134.05 1190.5H391.6v1H134.05ZM134.05 1191.5H391.6v1H134.05ZM134.05 1192.5H391.6v1H134.05ZM134.05 1193.5H250v1H134.05ZM134.05 1194.5H230v1H134.05ZM134.05 1195.5H205v1H134.05ZM134.05 1196.5H202v1H134.05ZM134.05 1197.5H200v1H134.05ZM134.05 1198.5H200v1H134.05ZM134.05 1199.5H200v1H134.05ZM134.05 1200.5H199v1H134.05ZM134.05 1201.5H198v1H134.05ZM134.05 1202.5H198v1H134.05ZM134.05 1203.5H196v1H134.05ZM134.05 1204.5H193v1H134.05ZM134.05 1205.5H188v1H134.05ZM134.05 1206.5H180v1H134.05ZM134.05 1207.5H170v1H134.05ZM134.05 1208.5H161v1H134.05ZM134.05 1209.5H150v1H134.05Z" fill="#e5a51b"/>
<path d="M134.05 1190.5H391.6v1H134.05ZM134.05 1193.5H250v1H134.05ZM134.05 1196.5H202v1H134.05ZM134.05 1199.5H200v1H134.05ZM134.05 1202.5H198v1H134.05ZM134.05 1205.5H188v1H134.05ZM134.05 1208.5H161v1H134.05Z" fill="#ecbb4a"/>
<path d="M134.05 1191.5H391.6v1H134.05ZM134.05 1194.5H230v1H134.05ZM134.05 1197.5H200v1H134.05ZM134.05 1200.5H199v1H134.05ZM134.05 1203.5H196v1H134.05ZM134.05 1206.5H180v1H134.05ZM134.05 1209.5H150v1H134.05Z" fill="#ecbb4a" fill-opacity="0.45"/>
<path d="M134.05 1189.5H201v1H134.05ZM134.05 1190.5H201v1H134.05ZM185 1195.5H205v1H185Z" fill="#f0c55f"/>
<path d="M134.05 1191.5H263v1H134.05ZM134.05 1192.5H263v1H134.05ZM134.05 1200.5H178v1H134.05ZM134.05 1202.5H150v1H134.05ZM134.05 1206.5H144.5v1H134.05Z" fill="#f6dc9c"/>
<path d="M134.05 1193.5H250v1H134.05ZM134.05 1194.5H230v1H134.05ZM134.05 1195.5H185v1H134.05ZM134.05 1196.5H178v1H134.05ZM134.05 1203.5H149.4v1H134.05Z" fill="#fbefd2"/>
<path d="M290.8 1193.5H310.8v1.2H290.8Z" fill="#e5a51b"/>
<path d="M134.05 1215H205.5 M263 1215H390.5" stroke="#7c7c7c" stroke-width="1.9" fill="none"/>
<path d="M207 1215H217.5 M253 1215H261.5" stroke="#7c7c7c" stroke-width="1.5" stroke-dasharray="1.3 0.9" fill="none"/>
<rect x="220.2" y="1211.9" width="6.2" height="6.2" fill="#fff" stroke="#3b3bff" stroke-width="0.7"/>
<rect x="133.7" y="1211.8" width="2.3" height="6.3" fill="#fff" stroke="#ff3030" stroke-width="0.6"/>
<rect x="389.3" y="1211.8" width="2.3" height="6.3" fill="#fff" stroke="#ff3030" stroke-width="0.6"/>
<path d="M133.7 1215H136 M389.3 1215H391.6" stroke="#ff3030" stroke-width="0.5"/>
<path d="M143.4 965.8V1217.5" stroke="#000" stroke-width="1.15" fill="none"/>
<text transform="translate(145.8 962.7) rotate(-90)" font-family='"Liberation Sans", sans-serif' font-size="7" font-style="italic" fill="#000">JAK2</text>
<path d="M125.4 965.8V1226.3H417.7" stroke="#666" stroke-width="0.9" fill="none"/>
<g stroke="#333" stroke-width="0.8">
<path d="M134.25 1226.3V1232.2"/>
<path d="M225.25 1226.3V1232.2"/>
<path d="M316.25 1226.3V1232.2"/>
<path d="M407.25 1226.3V1232.2"/>
</g>
<g font-family='"Liberation Sans", sans-serif' font-size="8.8" fill="#000" text-anchor="middle">
<text x="134.25" y="1246.2">0</text>
<text x="225.25" y="1246.2">50</text>
<text x="316.25" y="1246.2">100</text>
<text x="407.25" y="1246.2">150</text>
<text x="271.6" y="1267.8">Mb</text>
<text transform="translate(91.3 1096) rotate(-90)" font-size="9">Chromosome 9</text>
</g>
<g font-family='"Liberation Sans", sans-serif' font-size="6.95">
<text x="395.6" y="981.1" fill="#25a47d">Duplication</text>
<text x="394.7" y="1011.1" fill="#d9691c">Deletion</text>
<text x="395.6" y="1029.2" fill="#2580bc">CNLOH</text>
<text x="394.8" y="1197.8" fill="#e5a51b">Undetermined</text>
</g>
</g>
</svg>
</body>
</html>
